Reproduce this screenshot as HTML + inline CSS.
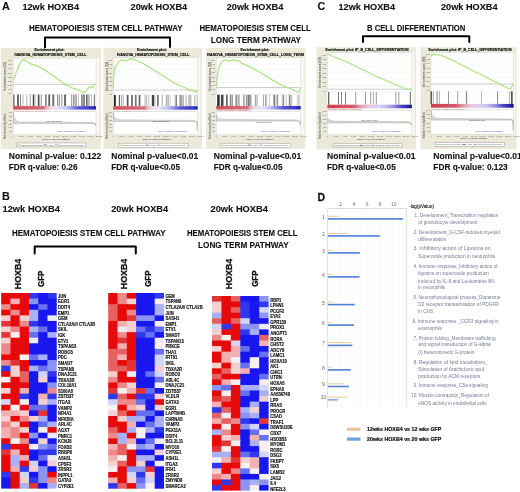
<!DOCTYPE html>
<html><head><meta charset="utf-8"><style>
html,body{margin:0;padding:0;background:#fff;}
body{width:520px;height:492px;overflow:hidden;}
svg{display:block;font-family:"Liberation Sans", sans-serif;filter:blur(0.3px);}
</style></head><body>
<svg width="520" height="492" viewBox="0 0 520 492">
<rect width="520" height="492" fill="#fff"/>
<text x="2.00" y="9.60" font-size="10.8" stroke="#111" stroke-width="0.12" font-weight="bold" fill="#111" >A</text>
<text x="22.40" y="9.60" font-size="9.3" stroke="#111" stroke-width="0.12" font-weight="bold" textLength="56.60" lengthAdjust="spacingAndGlyphs" fill="#111" >12wk HOXB4</text>
<text x="130.60" y="9.60" font-size="9.3" stroke="#111" stroke-width="0.12" font-weight="bold" textLength="56.60" lengthAdjust="spacingAndGlyphs" fill="#111" >20wk HOXB4</text>
<text x="226.70" y="9.60" font-size="9.3" stroke="#111" stroke-width="0.12" font-weight="bold" textLength="56.60" lengthAdjust="spacingAndGlyphs" fill="#111" >20wk HOXB4</text>
<text x="317.60" y="9.60" font-size="10.8" stroke="#111" stroke-width="0.12" font-weight="bold" fill="#111" >C</text>
<text x="338.50" y="9.60" font-size="9.3" stroke="#111" stroke-width="0.12" font-weight="bold" textLength="56.60" lengthAdjust="spacingAndGlyphs" fill="#111" >12wk HOXB4</text>
<text x="441.00" y="9.60" font-size="9.3" stroke="#111" stroke-width="0.12" font-weight="bold" textLength="56.60" lengthAdjust="spacingAndGlyphs" fill="#111" >20wk HOXB4</text>
<text x="29.00" y="30.60" font-size="9.0" stroke="#111" stroke-width="0.12" font-weight="bold" textLength="153.50" lengthAdjust="spacingAndGlyphs" fill="#111" >HEMATOPOIESIS STEM CELL PATHWAY</text>
<text x="199.40" y="30.60" font-size="9.0" stroke="#111" stroke-width="0.12" font-weight="bold" textLength="111.50" lengthAdjust="spacingAndGlyphs" fill="#111" >HEMATOPOIESIS STEM CELL</text>
<text x="210.80" y="42.60" font-size="9.0" stroke="#111" stroke-width="0.12" font-weight="bold" textLength="90.20" lengthAdjust="spacingAndGlyphs" fill="#111" >LONG TERM PATHWAY</text>
<text x="367.00" y="30.50" font-size="9.0" stroke="#111" stroke-width="0.12" font-weight="bold" textLength="98.40" lengthAdjust="spacingAndGlyphs" fill="#111" >B CELL DIFFERENTIATION</text>
<path d="M45,47.3 V37.5 H170 V47.3" fill="none" stroke="#000" stroke-width="2" stroke-linejoin="round" stroke-linecap="round"/>
<path d="M363,42 V36.2 H469.3 V42" fill="none" stroke="#000" stroke-width="2" stroke-linejoin="round" stroke-linecap="round"/>
<text x="8.75" y="158.80" font-size="8.2" stroke="#111" stroke-width="0.1" font-weight="bold" textLength="92.50" lengthAdjust="spacingAndGlyphs" fill="#111" >Nominal p-value: 0.122</text>
<text x="8.75" y="169.50" font-size="8.2" stroke="#111" stroke-width="0.1" font-weight="bold" textLength="68.70" lengthAdjust="spacingAndGlyphs" fill="#111" >FDR q-value: 0.26</text>
<text x="111.25" y="158.80" font-size="8.2" stroke="#111" stroke-width="0.1" font-weight="bold" textLength="87.00" lengthAdjust="spacingAndGlyphs" fill="#111" >Nominal p-value&lt;0.01</text>
<text x="111.25" y="169.50" font-size="8.2" stroke="#111" stroke-width="0.1" font-weight="bold" textLength="68.70" lengthAdjust="spacingAndGlyphs" fill="#111" >FDR q-value&lt;0.05</text>
<text x="213.75" y="158.80" font-size="8.2" stroke="#111" stroke-width="0.1" font-weight="bold" textLength="87.50" lengthAdjust="spacingAndGlyphs" fill="#111" >Nominal p-value&lt;0.01</text>
<text x="213.75" y="169.50" font-size="8.2" stroke="#111" stroke-width="0.1" font-weight="bold" textLength="68.70" lengthAdjust="spacingAndGlyphs" fill="#111" >FDR q-value&lt;0.05</text>
<text x="327.00" y="158.80" font-size="8.2" stroke="#111" stroke-width="0.1" font-weight="bold" textLength="88.50" lengthAdjust="spacingAndGlyphs" fill="#111" >Nominal p-value&lt;0.01</text>
<text x="327.00" y="169.50" font-size="8.2" stroke="#111" stroke-width="0.1" font-weight="bold" textLength="68.70" lengthAdjust="spacingAndGlyphs" fill="#111" >FDR q-value&lt;0.05</text>
<text x="433.30" y="158.80" font-size="8.2" stroke="#111" stroke-width="0.1" font-weight="bold" textLength="88.50" lengthAdjust="spacingAndGlyphs" fill="#111" >Nominal p-value&lt;0.01</text>
<text x="433.30" y="169.50" font-size="8.2" stroke="#111" stroke-width="0.1" font-weight="bold" textLength="74.40" lengthAdjust="spacingAndGlyphs" fill="#111" >FDR q-value: 0.123</text>
<rect x="1" y="48" width="100" height="101" fill="#eae9da"/>
<rect x="13.2" y="58.2" width="86.3" height="76.60000000000001" fill="#f8f8f2"/>
<text x="34.60" y="51.00" font-size="3.3" stroke="#111" stroke-width="0.15" font-weight="bold" textLength="29.80" lengthAdjust="spacingAndGlyphs" fill="#111" >Enrichment plot:</text>
<text x="14.40" y="55.60" font-size="3.3" stroke="#111" stroke-width="0.15" font-weight="bold" textLength="72.10" lengthAdjust="spacingAndGlyphs" fill="#111" >IVANOVA_HEMATOPOIESIS_STEM_CELL</text>
<rect x="13.2" y="58.2" width="82.8" height="36.3" fill="#fff" stroke="#c8c8c8" stroke-width="0.4"/>
<line x1="13.2" x2="96.0" y1="64.2" y2="64.2" stroke="#eee" stroke-width="0.4"/>
<line x1="13.2" x2="96.0" y1="70.3" y2="70.3" stroke="#eee" stroke-width="0.4"/>
<line x1="13.2" x2="96.0" y1="76.3" y2="76.3" stroke="#eee" stroke-width="0.4"/>
<line x1="13.2" x2="96.0" y1="82.4" y2="82.4" stroke="#eee" stroke-width="0.4"/>
<line x1="13.2" x2="96.0" y1="88.5" y2="88.5" stroke="#eee" stroke-width="0.4"/>
<line x1="13.2" x2="96.0" y1="84.3" y2="84.3" stroke="#9a9a9a" stroke-width="0.5"/>
<text x="12.00" y="61.10" font-size="2.4" textLength="4.00" lengthAdjust="spacingAndGlyphs" text-anchor="end" fill="#5a5a5a" >0.60</text>
<text x="12.00" y="65.26" font-size="2.4" textLength="4.00" lengthAdjust="spacingAndGlyphs" text-anchor="end" fill="#5a5a5a" >0.53</text>
<text x="12.00" y="69.43" font-size="2.4" textLength="4.00" lengthAdjust="spacingAndGlyphs" text-anchor="end" fill="#5a5a5a" >0.45</text>
<text x="12.00" y="73.59" font-size="2.4" textLength="4.00" lengthAdjust="spacingAndGlyphs" text-anchor="end" fill="#5a5a5a" >0.38</text>
<text x="12.00" y="77.75" font-size="2.4" textLength="4.00" lengthAdjust="spacingAndGlyphs" text-anchor="end" fill="#5a5a5a" >0.30</text>
<text x="12.00" y="81.91" font-size="2.4" textLength="4.00" lengthAdjust="spacingAndGlyphs" text-anchor="end" fill="#5a5a5a" >0.22</text>
<text x="12.00" y="86.08" font-size="2.4" textLength="4.00" lengthAdjust="spacingAndGlyphs" text-anchor="end" fill="#5a5a5a" >0.15</text>
<text x="12.00" y="90.24" font-size="2.4" textLength="4.00" lengthAdjust="spacingAndGlyphs" text-anchor="end" fill="#5a5a5a" >0.07</text>
<text x="12.00" y="94.40" font-size="2.4" textLength="4.00" lengthAdjust="spacingAndGlyphs" text-anchor="end" fill="#5a5a5a" >-0.05</text>
<text transform="translate(6.0,90.5) rotate(-90)" font-size="2.6" font-weight="bold" fill="#666" textLength="28.3" lengthAdjust="spacingAndGlyphs">Enrichment score (ES)</text>
<text transform="translate(6.0,138.8) rotate(-90)" font-size="2.6" font-weight="bold" fill="#666" textLength="25.0" lengthAdjust="spacingAndGlyphs">Ranked list metric (Signal2Noise)</text>
<polyline points="13.4,80.0 15.8,73.8 19.2,65.6 21.6,60.3 24.0,59.8 27.4,61.8 31.2,64.2 35.0,65.1 38.9,66.6 43.7,69.5 48.5,72.6 54.8,76.7 59.6,80.5 64.4,83.9 69.2,86.3 74.0,88.7 78.8,90.1 82.7,92.5 85.6,91.6 88.5,87.7 90.4,86.8 92.3,87.7 94.2,84.8 95.2,84.4" fill="none" stroke="#a6e47e" stroke-width="1.2" stroke-linejoin="round"/>
<rect x="13.2" y="94.5" width="82.8" height="11.599999999999994" fill="#fff"/>
<rect x="13.30" y="94.5" width="1.2" height="11.599999999999994" fill="#555"/>
<rect x="17.10" y="94.5" width="1.7" height="11.599999999999994" fill="#555"/>
<rect x="20.00" y="94.5" width="0.9" height="11.599999999999994" fill="#777"/>
<rect x="22.60" y="94.5" width="0.8" height="11.599999999999994" fill="#aaa"/>
<rect x="26.40" y="94.5" width="0.9" height="11.599999999999994" fill="#aaa"/>
<rect x="29.80" y="94.5" width="0.8" height="11.599999999999994" fill="#888"/>
<rect x="32.80" y="94.5" width="1.2" height="11.599999999999994" fill="#444"/>
<rect x="34.50" y="94.5" width="0.8" height="11.599999999999994" fill="#888"/>
<rect x="37.80" y="94.5" width="1.7" height="11.599999999999994" fill="#555"/>
<rect x="40.80" y="94.5" width="0.9" height="11.599999999999994" fill="#888"/>
<rect x="45.00" y="94.5" width="1.7" height="11.599999999999994" fill="#888"/>
<rect x="48.40" y="94.5" width="1.7" height="11.599999999999994" fill="#555"/>
<rect x="52.20" y="94.5" width="1.8" height="11.599999999999994" fill="#777"/>
<rect x="54.30" y="94.5" width="0.6" height="11.599999999999994" fill="#bbb"/>
<rect x="57.00" y="94.5" width="1.2" height="11.599999999999994" fill="#999"/>
<rect x="58.80" y="94.5" width="1.1" height="11.599999999999994" fill="#999"/>
<rect x="61.20" y="94.5" width="1.3" height="11.599999999999994" fill="#aaa"/>
<rect x="64.20" y="94.5" width="1.7" height="11.599999999999994" fill="#555"/>
<rect x="71.00" y="94.5" width="1.2" height="11.599999999999994" fill="#aaa"/>
<rect x="73.00" y="94.5" width="1.6" height="11.599999999999994" fill="#999"/>
<rect x="75.40" y="94.5" width="1.5" height="11.599999999999994" fill="#999"/>
<rect x="78.20" y="94.5" width="0.8" height="11.599999999999994" fill="#bbb"/>
<rect x="81.10" y="94.5" width="1.7" height="11.599999999999994" fill="#888"/>
<rect x="83.20" y="94.5" width="1.7" height="11.599999999999994" fill="#777"/>
<rect x="86.20" y="94.5" width="1.3" height="11.599999999999994" fill="#444"/>
<rect x="88.30" y="94.5" width="1.3" height="11.599999999999994" fill="#999"/>
<rect x="90.90" y="94.5" width="0.8" height="11.599999999999994" fill="#aaa"/>
<rect x="93.80" y="94.5" width="1.3" height="11.599999999999994" fill="#888"/>
<defs><linearGradient id="g1" x1="0" x2="1" y1="0" y2="0"><stop offset="0" stop-color="#cf4c5c"/><stop offset="0.37" stop-color="#d66c7c"/><stop offset="0.4" stop-color="#e6aabc"/><stop offset="0.46" stop-color="#f0dcea"/><stop offset="0.55" stop-color="#e4e2f8"/><stop offset="0.64" stop-color="#c4c0f2"/><stop offset="0.72" stop-color="#8e88e4"/><stop offset="0.8" stop-color="#5c56d6"/><stop offset="0.94" stop-color="#3c3ac4"/><stop offset="1" stop-color="#2222a8"/></linearGradient></defs>
<rect x="13.2" y="106.1" width="82.8" height="3.5" fill="url(#g1)"/>
<text x="13.70" y="111.50" font-size="2.2" textLength="33.12" lengthAdjust="spacingAndGlyphs" fill="#c04050" >'HSC' (positively correlated)</text>
<rect x="13.2" y="111.8" width="82.8" height="23.000000000000014" fill="#fff" stroke="#c8c8c8" stroke-width="0.4"/>
<path d="M13.5,123.6 L13.5,112.5 C14.0,119.8 15.7,121.5 21.2,122.0 L93.0,122.5 C94.5,122.8 95.2,124.3 95.6,126.0 L95.6,123.6 Z" fill="#dadada" stroke="#999" stroke-width="0.4"/>
<text x="12.00" y="113.20" font-size="2.4" textLength="3.60" lengthAdjust="spacingAndGlyphs" text-anchor="end" fill="#5a5a5a" >1.00</text>
<text x="12.00" y="117.00" font-size="2.4" textLength="3.60" lengthAdjust="spacingAndGlyphs" text-anchor="end" fill="#5a5a5a" >0.75</text>
<text x="12.00" y="120.80" font-size="2.4" textLength="3.60" lengthAdjust="spacingAndGlyphs" text-anchor="end" fill="#5a5a5a" >0.50</text>
<text x="12.00" y="124.60" font-size="2.4" textLength="3.60" lengthAdjust="spacingAndGlyphs" text-anchor="end" fill="#5a5a5a" >0.25</text>
<text x="12.00" y="128.40" font-size="2.4" textLength="3.60" lengthAdjust="spacingAndGlyphs" text-anchor="end" fill="#5a5a5a" >0.00</text>
<text x="12.00" y="132.20" font-size="2.4" textLength="3.60" lengthAdjust="spacingAndGlyphs" text-anchor="end" fill="#5a5a5a" >-0.25</text>
<text x="46.32" y="121.70" font-size="2.4" textLength="15.73" lengthAdjust="spacingAndGlyphs" fill="#444" >Zero cross at 3793</text>
<text x="57.08" y="132.40" font-size="2.3" textLength="28.15" lengthAdjust="spacingAndGlyphs" fill="#4a40c8" >'GFP' (negatively correlated)</text>
<text x="13.20" y="137.20" font-size="2.1" text-anchor="middle" fill="#666" >0</text>
<text x="21.78" y="137.20" font-size="2.1" text-anchor="middle" fill="#666" >2,000</text>
<text x="30.36" y="137.20" font-size="2.1" text-anchor="middle" fill="#666" >4,000</text>
<text x="38.94" y="137.20" font-size="2.1" text-anchor="middle" fill="#666" >6,000</text>
<text x="47.52" y="137.20" font-size="2.1" text-anchor="middle" fill="#666" >8,000</text>
<text x="56.10" y="137.20" font-size="2.1" text-anchor="middle" fill="#666" >10,000</text>
<text x="64.68" y="137.20" font-size="2.1" text-anchor="middle" fill="#666" >12,000</text>
<text x="73.26" y="137.20" font-size="2.1" text-anchor="middle" fill="#666" >14,000</text>
<text x="81.84" y="137.20" font-size="2.1" text-anchor="middle" fill="#666" >16,000</text>
<text x="90.42" y="137.20" font-size="2.1" text-anchor="middle" fill="#666" >18,000</text>
<text x="99.00" y="137.20" font-size="2.1" text-anchor="middle" fill="#666" >20,000</text>
<text x="42.18" y="140.00" font-size="2.2" font-weight="bold" textLength="27.32" lengthAdjust="spacingAndGlyphs" fill="#666" >Rank in Ordered Dataset</text>
<rect x="16.2" y="143.0" width="69.6" height="3.8000000000000114" fill="#fff" stroke="#999" stroke-width="0.5"/>
<line x1="17.2" x2="21.1" y1="144.9" y2="144.9" stroke="#8ad060" stroke-width="0.8"/>
<line x1="43.3" x2="46.8" y1="144.9" y2="144.9" stroke="#333" stroke-width="0.6"/>
<line x1="54.5" x2="58.7" y1="144.9" y2="144.9" stroke="#999" stroke-width="0.8"/>
<text x="21.77" y="145.60" font-size="2.0" textLength="20.88" lengthAdjust="spacingAndGlyphs" fill="#666" >Enrichment profile</text>
<text x="47.52" y="145.60" font-size="2.0" textLength="5.57" lengthAdjust="spacingAndGlyphs" fill="#666" >Hits</text>
<text x="59.35" y="145.60" font-size="2.0" textLength="23.66" lengthAdjust="spacingAndGlyphs" fill="#666" >Ranking metric scores</text>
<rect x="103.4" y="47.8" width="98.6" height="101.00000000000001" fill="#eae9da"/>
<rect x="113.2" y="57.8" width="87.3" height="77.00000000000001" fill="#f8f8f2"/>
<text x="137.00" y="51.00" font-size="3.3" stroke="#111" stroke-width="0.15" font-weight="bold" textLength="30.00" lengthAdjust="spacingAndGlyphs" fill="#111" >Enrichment plot:</text>
<text x="117.00" y="55.60" font-size="3.3" stroke="#111" stroke-width="0.15" font-weight="bold" textLength="72.50" lengthAdjust="spacingAndGlyphs" fill="#111" >IVANOVA_HEMATOPOIESIS_STEM_CELL</text>
<rect x="113.2" y="57.8" width="84.49999999999999" height="37.2" fill="#fff" stroke="#c8c8c8" stroke-width="0.4"/>
<line x1="113.2" x2="197.7" y1="64.0" y2="64.0" stroke="#eee" stroke-width="0.4"/>
<line x1="113.2" x2="197.7" y1="70.2" y2="70.2" stroke="#eee" stroke-width="0.4"/>
<line x1="113.2" x2="197.7" y1="76.4" y2="76.4" stroke="#eee" stroke-width="0.4"/>
<line x1="113.2" x2="197.7" y1="82.6" y2="82.6" stroke="#eee" stroke-width="0.4"/>
<line x1="113.2" x2="197.7" y1="88.8" y2="88.8" stroke="#eee" stroke-width="0.4"/>
<line x1="113.2" x2="197.7" y1="90.1" y2="90.1" stroke="#9a9a9a" stroke-width="0.5"/>
<text x="112.00" y="60.70" font-size="2.4" textLength="4.00" lengthAdjust="spacingAndGlyphs" text-anchor="end" fill="#5a5a5a" >0.60</text>
<text x="112.00" y="64.98" font-size="2.4" textLength="4.00" lengthAdjust="spacingAndGlyphs" text-anchor="end" fill="#5a5a5a" >0.53</text>
<text x="112.00" y="69.25" font-size="2.4" textLength="4.00" lengthAdjust="spacingAndGlyphs" text-anchor="end" fill="#5a5a5a" >0.45</text>
<text x="112.00" y="73.53" font-size="2.4" textLength="4.00" lengthAdjust="spacingAndGlyphs" text-anchor="end" fill="#5a5a5a" >0.38</text>
<text x="112.00" y="77.80" font-size="2.4" textLength="4.00" lengthAdjust="spacingAndGlyphs" text-anchor="end" fill="#5a5a5a" >0.30</text>
<text x="112.00" y="82.08" font-size="2.4" textLength="4.00" lengthAdjust="spacingAndGlyphs" text-anchor="end" fill="#5a5a5a" >0.22</text>
<text x="112.00" y="86.35" font-size="2.4" textLength="4.00" lengthAdjust="spacingAndGlyphs" text-anchor="end" fill="#5a5a5a" >0.15</text>
<text x="112.00" y="90.62" font-size="2.4" textLength="4.00" lengthAdjust="spacingAndGlyphs" text-anchor="end" fill="#5a5a5a" >0.07</text>
<text x="112.00" y="94.90" font-size="2.4" textLength="4.00" lengthAdjust="spacingAndGlyphs" text-anchor="end" fill="#5a5a5a" >-0.05</text>
<text transform="translate(108.4,91.0) rotate(-90)" font-size="2.6" font-weight="bold" fill="#666" textLength="29.2" lengthAdjust="spacingAndGlyphs">Enrichment score (ES)</text>
<text transform="translate(108.4,138.8) rotate(-90)" font-size="2.6" font-weight="bold" fill="#666" textLength="25.1" lengthAdjust="spacingAndGlyphs">Ranked list metric (Signal2Noise)</text>
<polyline points="113.1,87.7 113.9,75.2 114.9,68.5 116.8,64.7 118.7,61.8 120.7,59.8 123.5,60.3 126.4,61.3 128.3,59.4 131.2,58.9 135.1,59.8 138.9,61.8 142.8,63.2 146.6,65.6 150.5,68.0 155.0,70.8 159.8,73.8 164.6,76.7 169.4,80.0 174.2,82.9 179.0,85.3 183.8,87.3 188.7,89.2 193.5,91.1 195.9,92.1 196.8,90.6" fill="none" stroke="#a6e47e" stroke-width="1.2" stroke-linejoin="round"/>
<rect x="113.2" y="95.0" width="84.49999999999999" height="11.200000000000003" fill="#fff"/>
<rect x="113.90" y="95.0" width="1.9" height="11.200000000000003" fill="#222"/>
<rect x="118.80" y="95.0" width="1.2" height="11.200000000000003" fill="#666"/>
<rect x="120.90" y="95.0" width="1.3" height="11.200000000000003" fill="#aaa"/>
<rect x="123.00" y="95.0" width="0.9" height="11.200000000000003" fill="#bbb"/>
<rect x="126.80" y="95.0" width="1.7" height="11.200000000000003" fill="#555"/>
<rect x="131.10" y="95.0" width="1.7" height="11.200000000000003" fill="#666"/>
<rect x="134.90" y="95.0" width="1.7" height="11.200000000000003" fill="#777"/>
<rect x="138.70" y="95.0" width="1.7" height="11.200000000000003" fill="#666"/>
<rect x="144.60" y="95.0" width="0.9" height="11.200000000000003" fill="#aaa"/>
<rect x="146.30" y="95.0" width="0.9" height="11.200000000000003" fill="#aaa"/>
<rect x="148.40" y="95.0" width="0.9" height="11.200000000000003" fill="#bbb"/>
<rect x="151.80" y="95.0" width="2.2" height="11.200000000000003" fill="#444"/>
<rect x="154.40" y="95.0" width="0.9" height="11.200000000000003" fill="#aaa"/>
<rect x="157.00" y="95.0" width="1.7" height="11.200000000000003" fill="#777"/>
<rect x="161.60" y="95.0" width="1.3" height="11.200000000000003" fill="#bbb"/>
<rect x="165.90" y="95.0" width="1.3" height="11.200000000000003" fill="#aaa"/>
<rect x="167.60" y="95.0" width="1.2" height="11.200000000000003" fill="#aaa"/>
<rect x="169.70" y="95.0" width="0.8" height="11.200000000000003" fill="#bbb"/>
<rect x="174.80" y="95.0" width="0.8" height="11.200000000000003" fill="#888"/>
<rect x="176.00" y="95.0" width="0.9" height="11.200000000000003" fill="#777"/>
<rect x="179.40" y="95.0" width="1.3" height="11.200000000000003" fill="#888"/>
<rect x="181.10" y="95.0" width="1.2" height="11.200000000000003" fill="#999"/>
<rect x="182.70" y="95.0" width="1.0" height="11.200000000000003" fill="#999"/>
<rect x="185.40" y="95.0" width="1.2" height="11.200000000000003" fill="#bbb"/>
<rect x="188.30" y="95.0" width="1.3" height="11.200000000000003" fill="#aaa"/>
<rect x="190.40" y="95.0" width="0.9" height="11.200000000000003" fill="#999"/>
<rect x="194.30" y="95.0" width="1.2" height="11.200000000000003" fill="#bbb"/>
<rect x="196.80" y="95.0" width="0.8" height="11.200000000000003" fill="#aaa"/>
<defs><linearGradient id="g2" x1="0" x2="1" y1="0" y2="0"><stop offset="0" stop-color="#cf4c5c"/><stop offset="0.37" stop-color="#d66c7c"/><stop offset="0.4" stop-color="#e6aabc"/><stop offset="0.46" stop-color="#f0dcea"/><stop offset="0.55" stop-color="#e4e2f8"/><stop offset="0.64" stop-color="#c4c0f2"/><stop offset="0.72" stop-color="#8e88e4"/><stop offset="0.8" stop-color="#5c56d6"/><stop offset="0.94" stop-color="#3c3ac4"/><stop offset="1" stop-color="#2222a8"/></linearGradient></defs>
<rect x="113.2" y="106.2" width="84.49999999999999" height="3.5" fill="url(#g2)"/>
<text x="113.70" y="111.60" font-size="2.2" textLength="33.80" lengthAdjust="spacingAndGlyphs" fill="#c04050" >'HSC' (positively correlated)</text>
<rect x="113.2" y="111.7" width="84.49999999999999" height="23.10000000000001" fill="#fff" stroke="#c8c8c8" stroke-width="0.4"/>
<path d="M113.5,121.5 L113.5,112.7 C114.0,117.7 115.7,119.4 121.2,119.9 L194.7,120.4 C196.2,120.7 196.89999999999998,122.2 197.29999999999998,130.0 L197.29999999999998,121.5 Z" fill="#dadada" stroke="#999" stroke-width="0.4"/>
<text x="112.00" y="113.10" font-size="2.4" textLength="3.60" lengthAdjust="spacingAndGlyphs" text-anchor="end" fill="#5a5a5a" >1.00</text>
<text x="112.00" y="116.92" font-size="2.4" textLength="3.60" lengthAdjust="spacingAndGlyphs" text-anchor="end" fill="#5a5a5a" >0.75</text>
<text x="112.00" y="120.74" font-size="2.4" textLength="3.60" lengthAdjust="spacingAndGlyphs" text-anchor="end" fill="#5a5a5a" >0.50</text>
<text x="112.00" y="124.56" font-size="2.4" textLength="3.60" lengthAdjust="spacingAndGlyphs" text-anchor="end" fill="#5a5a5a" >0.25</text>
<text x="112.00" y="128.38" font-size="2.4" textLength="3.60" lengthAdjust="spacingAndGlyphs" text-anchor="end" fill="#5a5a5a" >0.00</text>
<text x="112.00" y="132.20" font-size="2.4" textLength="3.60" lengthAdjust="spacingAndGlyphs" text-anchor="end" fill="#5a5a5a" >-0.25</text>
<text x="152.91" y="121.90" font-size="2.4" textLength="16.05" lengthAdjust="spacingAndGlyphs" fill="#444" >Zero cross at 10796</text>
<text x="157.99" y="132.40" font-size="2.3" textLength="28.73" lengthAdjust="spacingAndGlyphs" fill="#4a40c8" >'GFP' (negatively correlated)</text>
<text x="113.20" y="137.20" font-size="2.1" text-anchor="middle" fill="#666" >0</text>
<text x="121.95" y="137.20" font-size="2.1" text-anchor="middle" fill="#666" >2,000</text>
<text x="130.70" y="137.20" font-size="2.1" text-anchor="middle" fill="#666" >4,000</text>
<text x="139.45" y="137.20" font-size="2.1" text-anchor="middle" fill="#666" >6,000</text>
<text x="148.20" y="137.20" font-size="2.1" text-anchor="middle" fill="#666" >8,000</text>
<text x="156.95" y="137.20" font-size="2.1" text-anchor="middle" fill="#666" >10,000</text>
<text x="165.70" y="137.20" font-size="2.1" text-anchor="middle" fill="#666" >12,000</text>
<text x="174.45" y="137.20" font-size="2.1" text-anchor="middle" fill="#666" >14,000</text>
<text x="183.20" y="137.20" font-size="2.1" text-anchor="middle" fill="#666" >16,000</text>
<text x="191.95" y="137.20" font-size="2.1" text-anchor="middle" fill="#666" >18,000</text>
<text x="200.70" y="137.20" font-size="2.1" text-anchor="middle" fill="#666" >20,000</text>
<text x="142.78" y="140.00" font-size="2.2" font-weight="bold" textLength="27.88" lengthAdjust="spacingAndGlyphs" fill="#666" >Rank in Ordered Dataset</text>
<rect x="118.5" y="143.2" width="69.5" height="4.0" fill="#fff" stroke="#999" stroke-width="0.5"/>
<line x1="119.5" x2="123.4" y1="145.2" y2="145.2" stroke="#8ad060" stroke-width="0.8"/>
<line x1="145.6" x2="149.1" y1="145.2" y2="145.2" stroke="#333" stroke-width="0.6"/>
<line x1="156.7" x2="160.9" y1="145.2" y2="145.2" stroke="#999" stroke-width="0.8"/>
<text x="124.06" y="146.00" font-size="2.0" textLength="20.85" lengthAdjust="spacingAndGlyphs" fill="#666" >Enrichment profile</text>
<text x="149.78" y="146.00" font-size="2.0" textLength="5.56" lengthAdjust="spacingAndGlyphs" fill="#666" >Hits</text>
<text x="161.59" y="146.00" font-size="2.0" textLength="23.63" lengthAdjust="spacingAndGlyphs" fill="#666" >Ranking metric scores</text>
<rect x="206.2" y="47.8" width="99.10000000000002" height="101.00000000000001" fill="#eae9da"/>
<rect x="216.2" y="57.8" width="87.60000000000002" height="77.00000000000001" fill="#f8f8f2"/>
<text x="240.60" y="51.00" font-size="3.3" stroke="#111" stroke-width="0.15" font-weight="bold" textLength="28.80" lengthAdjust="spacingAndGlyphs" fill="#111" >Enrichment plot:</text>
<text x="206.90" y="55.60" font-size="3.3" stroke="#111" stroke-width="0.15" font-weight="bold" textLength="97.10" lengthAdjust="spacingAndGlyphs" fill="#111" >IVANOVA_HEMATOPOIESIS_STEM_CELL_LONG_TERM</text>
<rect x="216.2" y="57.8" width="84.5" height="37.0" fill="#fff" stroke="#c8c8c8" stroke-width="0.4"/>
<line x1="216.2" x2="300.7" y1="64.0" y2="64.0" stroke="#eee" stroke-width="0.4"/>
<line x1="216.2" x2="300.7" y1="70.1" y2="70.1" stroke="#eee" stroke-width="0.4"/>
<line x1="216.2" x2="300.7" y1="76.3" y2="76.3" stroke="#eee" stroke-width="0.4"/>
<line x1="216.2" x2="300.7" y1="82.5" y2="82.5" stroke="#eee" stroke-width="0.4"/>
<line x1="216.2" x2="300.7" y1="88.6" y2="88.6" stroke="#eee" stroke-width="0.4"/>
<line x1="216.2" x2="300.7" y1="87.5" y2="87.5" stroke="#9a9a9a" stroke-width="0.5"/>
<text x="215.00" y="60.70" font-size="2.4" textLength="4.00" lengthAdjust="spacingAndGlyphs" text-anchor="end" fill="#5a5a5a" >0.60</text>
<text x="215.00" y="64.95" font-size="2.4" textLength="4.00" lengthAdjust="spacingAndGlyphs" text-anchor="end" fill="#5a5a5a" >0.53</text>
<text x="215.00" y="69.20" font-size="2.4" textLength="4.00" lengthAdjust="spacingAndGlyphs" text-anchor="end" fill="#5a5a5a" >0.45</text>
<text x="215.00" y="73.45" font-size="2.4" textLength="4.00" lengthAdjust="spacingAndGlyphs" text-anchor="end" fill="#5a5a5a" >0.38</text>
<text x="215.00" y="77.70" font-size="2.4" textLength="4.00" lengthAdjust="spacingAndGlyphs" text-anchor="end" fill="#5a5a5a" >0.30</text>
<text x="215.00" y="81.95" font-size="2.4" textLength="4.00" lengthAdjust="spacingAndGlyphs" text-anchor="end" fill="#5a5a5a" >0.22</text>
<text x="215.00" y="86.20" font-size="2.4" textLength="4.00" lengthAdjust="spacingAndGlyphs" text-anchor="end" fill="#5a5a5a" >0.15</text>
<text x="215.00" y="90.45" font-size="2.4" textLength="4.00" lengthAdjust="spacingAndGlyphs" text-anchor="end" fill="#5a5a5a" >0.07</text>
<text x="215.00" y="94.70" font-size="2.4" textLength="4.00" lengthAdjust="spacingAndGlyphs" text-anchor="end" fill="#5a5a5a" >-0.05</text>
<text transform="translate(211.2,90.8) rotate(-90)" font-size="2.6" font-weight="bold" fill="#666" textLength="29.0" lengthAdjust="spacingAndGlyphs">Enrichment score (ES)</text>
<text transform="translate(211.2,138.8) rotate(-90)" font-size="2.6" font-weight="bold" fill="#666" textLength="25.1" lengthAdjust="spacingAndGlyphs">Ranked list metric (Signal2Noise)</text>
<polyline points="216.5,86.0 216.9,79.1 217.9,72.3 219.3,66.6 221.7,61.8 224.6,59.8 227.5,60.8 230.4,60.8 232.8,59.8 236.2,60.3 239.0,60.8 241.9,63.2 245.8,65.1 250.6,67.1 255.4,70.0 259.0,71.8 262.8,74.0 267.6,76.9 272.4,80.0 277.2,82.9 282.0,85.3 286.8,87.3 291.7,89.2 294.5,90.6 297.4,92.3 298.9,92.1 299.8,88.7" fill="none" stroke="#a6e47e" stroke-width="1.2" stroke-linejoin="round"/>
<rect x="216.2" y="94.8" width="84.5" height="11.200000000000003" fill="#fff"/>
<rect x="217.10" y="94.8" width="2.6" height="11.200000000000003" fill="#333"/>
<rect x="220.90" y="94.8" width="2.6" height="11.200000000000003" fill="#444"/>
<rect x="226.00" y="94.8" width="1.7" height="11.200000000000003" fill="#666"/>
<rect x="229.80" y="94.8" width="1.4" height="11.200000000000003" fill="#888"/>
<rect x="231.60" y="94.8" width="1.2" height="11.200000000000003" fill="#888"/>
<rect x="235.30" y="94.8" width="2.2" height="11.200000000000003" fill="#999"/>
<rect x="238.30" y="94.8" width="1.3" height="11.200000000000003" fill="#999"/>
<rect x="243.00" y="94.8" width="1.7" height="11.200000000000003" fill="#aaa"/>
<rect x="245.90" y="94.8" width="1.3" height="11.200000000000003" fill="#999"/>
<rect x="247.60" y="94.8" width="2.1" height="11.200000000000003" fill="#777"/>
<rect x="250.20" y="94.8" width="1.2" height="11.200000000000003" fill="#888"/>
<rect x="254.80" y="94.8" width="1.7" height="11.200000000000003" fill="#aaa"/>
<rect x="257.00" y="94.8" width="0.8" height="11.200000000000003" fill="#bbb"/>
<rect x="262.90" y="94.8" width="0.9" height="11.200000000000003" fill="#999"/>
<rect x="265.00" y="94.8" width="1.7" height="11.200000000000003" fill="#aaa"/>
<rect x="268.90" y="94.8" width="0.8" height="11.200000000000003" fill="#bbb"/>
<rect x="273.50" y="94.8" width="1.7" height="11.200000000000003" fill="#777"/>
<rect x="276.50" y="94.8" width="1.7" height="11.200000000000003" fill="#999"/>
<rect x="281.60" y="94.8" width="0.8" height="11.200000000000003" fill="#bbb"/>
<rect x="282.80" y="94.8" width="1.3" height="11.200000000000003" fill="#888"/>
<rect x="285.80" y="94.8" width="0.9" height="11.200000000000003" fill="#bbb"/>
<rect x="288.80" y="94.8" width="1.7" height="11.200000000000003" fill="#888"/>
<rect x="291.30" y="94.8" width="0.9" height="11.200000000000003" fill="#aaa"/>
<rect x="296.80" y="94.8" width="0.9" height="11.200000000000003" fill="#ccc"/>
<rect x="298.50" y="94.8" width="0.9" height="11.200000000000003" fill="#999"/>
<defs><linearGradient id="g3" x1="0" x2="1" y1="0" y2="0"><stop offset="0" stop-color="#cf4c5c"/><stop offset="0.37" stop-color="#d66c7c"/><stop offset="0.4" stop-color="#e6aabc"/><stop offset="0.46" stop-color="#f0dcea"/><stop offset="0.55" stop-color="#e4e2f8"/><stop offset="0.64" stop-color="#c4c0f2"/><stop offset="0.72" stop-color="#8e88e4"/><stop offset="0.8" stop-color="#5c56d6"/><stop offset="0.94" stop-color="#3c3ac4"/><stop offset="1" stop-color="#2222a8"/></linearGradient></defs>
<rect x="216.2" y="106.0" width="84.5" height="3.5" fill="url(#g3)"/>
<text x="216.70" y="111.40" font-size="2.2" textLength="33.80" lengthAdjust="spacingAndGlyphs" fill="#c04050" >'HSC' (positively correlated)</text>
<rect x="216.2" y="111.7" width="84.5" height="23.10000000000001" fill="#fff" stroke="#c8c8c8" stroke-width="0.4"/>
<path d="M216.5,121.1 L216.5,114.7 C217.0,117.3 218.7,119.0 224.2,119.5 L297.7,120.0 C299.2,120.3 299.9,121.8 300.3,125.2 L300.3,121.1 Z" fill="#dadada" stroke="#999" stroke-width="0.4"/>
<text x="215.00" y="113.10" font-size="2.4" textLength="3.60" lengthAdjust="spacingAndGlyphs" text-anchor="end" fill="#5a5a5a" >1.00</text>
<text x="215.00" y="116.92" font-size="2.4" textLength="3.60" lengthAdjust="spacingAndGlyphs" text-anchor="end" fill="#5a5a5a" >0.75</text>
<text x="215.00" y="120.74" font-size="2.4" textLength="3.60" lengthAdjust="spacingAndGlyphs" text-anchor="end" fill="#5a5a5a" >0.50</text>
<text x="215.00" y="124.56" font-size="2.4" textLength="3.60" lengthAdjust="spacingAndGlyphs" text-anchor="end" fill="#5a5a5a" >0.25</text>
<text x="215.00" y="128.38" font-size="2.4" textLength="3.60" lengthAdjust="spacingAndGlyphs" text-anchor="end" fill="#5a5a5a" >0.00</text>
<text x="215.00" y="132.20" font-size="2.4" textLength="3.60" lengthAdjust="spacingAndGlyphs" text-anchor="end" fill="#5a5a5a" >-0.25</text>
<text x="255.91" y="122.80" font-size="2.4" textLength="16.05" lengthAdjust="spacingAndGlyphs" fill="#444" >Zero cross at 10796</text>
<text x="260.99" y="132.40" font-size="2.3" textLength="28.73" lengthAdjust="spacingAndGlyphs" fill="#4a40c8" >'GFP' (negatively correlated)</text>
<text x="216.20" y="137.20" font-size="2.1" text-anchor="middle" fill="#666" >0</text>
<text x="224.95" y="137.20" font-size="2.1" text-anchor="middle" fill="#666" >2,000</text>
<text x="233.70" y="137.20" font-size="2.1" text-anchor="middle" fill="#666" >4,000</text>
<text x="242.45" y="137.20" font-size="2.1" text-anchor="middle" fill="#666" >6,000</text>
<text x="251.20" y="137.20" font-size="2.1" text-anchor="middle" fill="#666" >8,000</text>
<text x="259.95" y="137.20" font-size="2.1" text-anchor="middle" fill="#666" >10,000</text>
<text x="268.70" y="137.20" font-size="2.1" text-anchor="middle" fill="#666" >12,000</text>
<text x="277.45" y="137.20" font-size="2.1" text-anchor="middle" fill="#666" >14,000</text>
<text x="286.20" y="137.20" font-size="2.1" text-anchor="middle" fill="#666" >16,000</text>
<text x="294.95" y="137.20" font-size="2.1" text-anchor="middle" fill="#666" >18,000</text>
<text x="303.70" y="137.20" font-size="2.1" text-anchor="middle" fill="#666" >20,000</text>
<text x="245.77" y="140.00" font-size="2.2" font-weight="bold" textLength="27.89" lengthAdjust="spacingAndGlyphs" fill="#666" >Rank in Ordered Dataset</text>
<rect x="220.0" y="143.3" width="70.5" height="3.8999999999999773" fill="#fff" stroke="#999" stroke-width="0.5"/>
<line x1="221.0" x2="224.9" y1="145.2" y2="145.2" stroke="#8ad060" stroke-width="0.8"/>
<line x1="247.5" x2="251.0" y1="145.2" y2="145.2" stroke="#333" stroke-width="0.6"/>
<line x1="258.8" x2="263.0" y1="145.2" y2="145.2" stroke="#999" stroke-width="0.8"/>
<text x="225.64" y="146.00" font-size="2.0" textLength="21.15" lengthAdjust="spacingAndGlyphs" fill="#666" >Enrichment profile</text>
<text x="251.72" y="146.00" font-size="2.0" textLength="5.64" lengthAdjust="spacingAndGlyphs" fill="#666" >Hits</text>
<text x="263.71" y="146.00" font-size="2.0" textLength="23.97" lengthAdjust="spacingAndGlyphs" fill="#666" >Ranking metric scores</text>
<rect x="316.4" y="47.3" width="99.60000000000002" height="102.00000000000001" fill="#eae9da"/>
<rect x="327.4" y="52.8" width="87.10000000000002" height="82.00000000000001" fill="#f8f8f2"/>
<text x="325.50" y="50.90" font-size="3.3" stroke="#111" stroke-width="0.15" font-weight="bold" textLength="83.10" lengthAdjust="spacingAndGlyphs" fill="#111" >Enrichment plot: IP_B_CELL_DIFFERENTIATION</text>
<rect x="327.4" y="52.8" width="84.5" height="39.2" fill="#fff" stroke="#c8c8c8" stroke-width="0.4"/>
<line x1="327.4" x2="411.9" y1="59.3" y2="59.3" stroke="#eee" stroke-width="0.4"/>
<line x1="327.4" x2="411.9" y1="65.9" y2="65.9" stroke="#eee" stroke-width="0.4"/>
<line x1="327.4" x2="411.9" y1="72.4" y2="72.4" stroke="#eee" stroke-width="0.4"/>
<line x1="327.4" x2="411.9" y1="78.9" y2="78.9" stroke="#eee" stroke-width="0.4"/>
<line x1="327.4" x2="411.9" y1="85.5" y2="85.5" stroke="#eee" stroke-width="0.4"/>
<line x1="327.4" x2="411.9" y1="89.2" y2="89.2" stroke="#9a9a9a" stroke-width="0.5"/>
<text x="326.20" y="55.70" font-size="2.4" textLength="4.00" lengthAdjust="spacingAndGlyphs" text-anchor="end" fill="#5a5a5a" >0.60</text>
<text x="326.20" y="60.22" font-size="2.4" textLength="4.00" lengthAdjust="spacingAndGlyphs" text-anchor="end" fill="#5a5a5a" >0.53</text>
<text x="326.20" y="64.75" font-size="2.4" textLength="4.00" lengthAdjust="spacingAndGlyphs" text-anchor="end" fill="#5a5a5a" >0.45</text>
<text x="326.20" y="69.28" font-size="2.4" textLength="4.00" lengthAdjust="spacingAndGlyphs" text-anchor="end" fill="#5a5a5a" >0.38</text>
<text x="326.20" y="73.80" font-size="2.4" textLength="4.00" lengthAdjust="spacingAndGlyphs" text-anchor="end" fill="#5a5a5a" >0.30</text>
<text x="326.20" y="78.33" font-size="2.4" textLength="4.00" lengthAdjust="spacingAndGlyphs" text-anchor="end" fill="#5a5a5a" >0.22</text>
<text x="326.20" y="82.85" font-size="2.4" textLength="4.00" lengthAdjust="spacingAndGlyphs" text-anchor="end" fill="#5a5a5a" >0.15</text>
<text x="326.20" y="87.38" font-size="2.4" textLength="4.00" lengthAdjust="spacingAndGlyphs" text-anchor="end" fill="#5a5a5a" >0.07</text>
<text x="326.20" y="91.90" font-size="2.4" textLength="4.00" lengthAdjust="spacingAndGlyphs" text-anchor="end" fill="#5a5a5a" >-0.05</text>
<text transform="translate(321.4,88.0) rotate(-90)" font-size="2.6" font-weight="bold" fill="#666" textLength="31.2" lengthAdjust="spacingAndGlyphs">Enrichment score (ES)</text>
<text transform="translate(321.4,138.8) rotate(-90)" font-size="2.6" font-weight="bold" fill="#666" textLength="26.6" lengthAdjust="spacingAndGlyphs">Ranked list metric (Signal2Noise)</text>
<polyline points="327.6,54.6 329.0,54.3 331.0,55.4 335.4,57.8 345.8,61.2 356.1,66.4 366.5,71.6 376.9,76.8 387.3,81.1 397.7,85.5 406.3,88.9 408.9,89.8 410.6,88.6 411.5,88.2" fill="none" stroke="#a6e47e" stroke-width="1.1" stroke-linejoin="round"/>
<rect x="327.4" y="92.0" width="84.5" height="12.700000000000003" fill="#fff"/>
<rect x="328.10" y="92.0" width="1.2" height="12.700000000000003" fill="#555"/>
<rect x="338.00" y="92.0" width="1.0" height="12.700000000000003" fill="#777"/>
<rect x="341.00" y="92.0" width="1.0" height="12.700000000000003" fill="#888"/>
<rect x="345.00" y="92.0" width="0.9" height="12.700000000000003" fill="#777"/>
<rect x="355.20" y="92.0" width="1.0" height="12.700000000000003" fill="#999"/>
<rect x="365.00" y="92.0" width="1.0" height="12.700000000000003" fill="#999"/>
<rect x="370.20" y="92.0" width="0.9" height="12.700000000000003" fill="#999"/>
<rect x="372.80" y="92.0" width="0.9" height="12.700000000000003" fill="#999"/>
<rect x="375.80" y="92.0" width="1.0" height="12.700000000000003" fill="#999"/>
<rect x="395.40" y="92.0" width="1.0" height="12.700000000000003" fill="#999"/>
<rect x="398.30" y="92.0" width="1.0" height="12.700000000000003" fill="#999"/>
<rect x="409.80" y="92.0" width="1.0" height="12.700000000000003" fill="#666"/>
<defs><linearGradient id="g4" x1="0" x2="1" y1="0" y2="0"><stop offset="0" stop-color="#cc3c4e"/><stop offset="0.3" stop-color="#d45a6c"/><stop offset="0.4" stop-color="#e0a0b6"/><stop offset="0.5" stop-color="#e8cce0"/><stop offset="0.6" stop-color="#d6d0f2"/><stop offset="0.7" stop-color="#c0b8ee"/><stop offset="0.8" stop-color="#8880e0"/><stop offset="0.88" stop-color="#4844c8"/><stop offset="0.96" stop-color="#26249e"/><stop offset="1" stop-color="#141470"/></linearGradient></defs>
<rect x="327.4" y="104.7" width="84.5" height="3.5" fill="url(#g4)"/>
<text x="327.90" y="110.10" font-size="2.2" textLength="33.80" lengthAdjust="spacingAndGlyphs" fill="#c04050" >'HOXB4' (positively correlated)</text>
<rect x="327.4" y="110.2" width="84.5" height="24.60000000000001" fill="#fff" stroke="#c8c8c8" stroke-width="0.4"/>
<path d="M327.7,122.89999999999999 L327.7,118.5 C328.2,119.1 329.9,120.8 335.4,121.3 L408.9,121.8 C410.4,122.1 411.09999999999997,123.6 411.5,125.2 L411.5,122.89999999999999 Z" fill="#dadada" stroke="#999" stroke-width="0.4"/>
<text x="326.20" y="111.60" font-size="2.4" textLength="3.60" lengthAdjust="spacingAndGlyphs" text-anchor="end" fill="#5a5a5a" >1.00</text>
<text x="326.20" y="115.72" font-size="2.4" textLength="3.60" lengthAdjust="spacingAndGlyphs" text-anchor="end" fill="#5a5a5a" >0.75</text>
<text x="326.20" y="119.84" font-size="2.4" textLength="3.60" lengthAdjust="spacingAndGlyphs" text-anchor="end" fill="#5a5a5a" >0.50</text>
<text x="326.20" y="123.96" font-size="2.4" textLength="3.60" lengthAdjust="spacingAndGlyphs" text-anchor="end" fill="#5a5a5a" >0.25</text>
<text x="326.20" y="128.08" font-size="2.4" textLength="3.60" lengthAdjust="spacingAndGlyphs" text-anchor="end" fill="#5a5a5a" >0.00</text>
<text x="326.20" y="132.20" font-size="2.4" textLength="3.60" lengthAdjust="spacingAndGlyphs" text-anchor="end" fill="#5a5a5a" >-0.25</text>
<text x="361.20" y="121.40" font-size="2.4" textLength="16.05" lengthAdjust="spacingAndGlyphs" fill="#444" >Zero cross at 4762</text>
<text x="372.19" y="132.40" font-size="2.3" textLength="28.73" lengthAdjust="spacingAndGlyphs" fill="#4a40c8" >'GFP' (negatively correlated)</text>
<text x="327.40" y="137.20" font-size="2.1" text-anchor="middle" fill="#666" >0</text>
<text x="336.15" y="137.20" font-size="2.1" text-anchor="middle" fill="#666" >2,000</text>
<text x="344.90" y="137.20" font-size="2.1" text-anchor="middle" fill="#666" >4,000</text>
<text x="353.65" y="137.20" font-size="2.1" text-anchor="middle" fill="#666" >6,000</text>
<text x="362.40" y="137.20" font-size="2.1" text-anchor="middle" fill="#666" >8,000</text>
<text x="371.15" y="137.20" font-size="2.1" text-anchor="middle" fill="#666" >10,000</text>
<text x="379.90" y="137.20" font-size="2.1" text-anchor="middle" fill="#666" >12,000</text>
<text x="388.65" y="137.20" font-size="2.1" text-anchor="middle" fill="#666" >14,000</text>
<text x="397.40" y="137.20" font-size="2.1" text-anchor="middle" fill="#666" >16,000</text>
<text x="406.15" y="137.20" font-size="2.1" text-anchor="middle" fill="#666" >18,000</text>
<text x="414.90" y="137.20" font-size="2.1" text-anchor="middle" fill="#666" >20,000</text>
<text x="356.97" y="140.00" font-size="2.2" font-weight="bold" textLength="27.89" lengthAdjust="spacingAndGlyphs" fill="#666" >Rank in Ordered Dataset</text>
<rect x="332.9" y="143.8" width="69.10000000000002" height="3.1999999999999886" fill="#fff" stroke="#999" stroke-width="0.5"/>
<line x1="333.9" x2="337.7" y1="145.4" y2="145.4" stroke="#8ad060" stroke-width="0.8"/>
<line x1="359.8" x2="363.3" y1="145.4" y2="145.4" stroke="#333" stroke-width="0.6"/>
<line x1="370.9" x2="375.1" y1="145.4" y2="145.4" stroke="#999" stroke-width="0.8"/>
<text x="338.43" y="145.80" font-size="2.0" textLength="20.73" lengthAdjust="spacingAndGlyphs" fill="#666" >Enrichment profile</text>
<text x="364.00" y="145.80" font-size="2.0" textLength="5.53" lengthAdjust="spacingAndGlyphs" fill="#666" >Hits</text>
<text x="375.74" y="145.80" font-size="2.0" textLength="23.49" lengthAdjust="spacingAndGlyphs" fill="#666" >Ranking metric scores</text>
<rect x="420.3" y="47.3" width="96.30000000000001" height="101.7" fill="#eae9da"/>
<rect x="431.0" y="52.5" width="84.10000000000002" height="81.69999999999999" fill="#f8f8f2"/>
<text x="428.50" y="50.80" font-size="3.3" stroke="#111" stroke-width="0.15" font-weight="bold" textLength="83.00" lengthAdjust="spacingAndGlyphs" fill="#111" >Enrichment plot: IP_B_CELL_DIFFERENTIATION</text>
<rect x="431.0" y="52.5" width="82.60000000000002" height="38.8" fill="#fff" stroke="#c8c8c8" stroke-width="0.4"/>
<line x1="431.0" x2="513.6" y1="59.0" y2="59.0" stroke="#eee" stroke-width="0.4"/>
<line x1="431.0" x2="513.6" y1="65.4" y2="65.4" stroke="#eee" stroke-width="0.4"/>
<line x1="431.0" x2="513.6" y1="71.9" y2="71.9" stroke="#eee" stroke-width="0.4"/>
<line x1="431.0" x2="513.6" y1="78.4" y2="78.4" stroke="#eee" stroke-width="0.4"/>
<line x1="431.0" x2="513.6" y1="84.8" y2="84.8" stroke="#eee" stroke-width="0.4"/>
<line x1="431.0" x2="513.6" y1="84.0" y2="84.0" stroke="#9a9a9a" stroke-width="0.5"/>
<text x="429.80" y="55.40" font-size="2.4" textLength="4.00" lengthAdjust="spacingAndGlyphs" text-anchor="end" fill="#5a5a5a" >0.60</text>
<text x="429.80" y="59.88" font-size="2.4" textLength="4.00" lengthAdjust="spacingAndGlyphs" text-anchor="end" fill="#5a5a5a" >0.53</text>
<text x="429.80" y="64.35" font-size="2.4" textLength="4.00" lengthAdjust="spacingAndGlyphs" text-anchor="end" fill="#5a5a5a" >0.45</text>
<text x="429.80" y="68.83" font-size="2.4" textLength="4.00" lengthAdjust="spacingAndGlyphs" text-anchor="end" fill="#5a5a5a" >0.38</text>
<text x="429.80" y="73.30" font-size="2.4" textLength="4.00" lengthAdjust="spacingAndGlyphs" text-anchor="end" fill="#5a5a5a" >0.30</text>
<text x="429.80" y="77.78" font-size="2.4" textLength="4.00" lengthAdjust="spacingAndGlyphs" text-anchor="end" fill="#5a5a5a" >0.22</text>
<text x="429.80" y="82.25" font-size="2.4" textLength="4.00" lengthAdjust="spacingAndGlyphs" text-anchor="end" fill="#5a5a5a" >0.15</text>
<text x="429.80" y="86.72" font-size="2.4" textLength="4.00" lengthAdjust="spacingAndGlyphs" text-anchor="end" fill="#5a5a5a" >0.07</text>
<text x="429.80" y="91.20" font-size="2.4" textLength="4.00" lengthAdjust="spacingAndGlyphs" text-anchor="end" fill="#5a5a5a" >-0.05</text>
<text transform="translate(425.3,87.3) rotate(-90)" font-size="2.6" font-weight="bold" fill="#666" textLength="30.8" lengthAdjust="spacingAndGlyphs">Enrichment score (ES)</text>
<text transform="translate(425.3,138.2) rotate(-90)" font-size="2.6" font-weight="bold" fill="#666" textLength="26.2" lengthAdjust="spacingAndGlyphs">Ranked list metric (Signal2Noise)</text>
<polyline points="431.2,55.7 433.1,54.6 437.0,54.6 440.6,55.2 447.0,57.8 457.7,63.1 468.4,68.5 479.0,73.8 489.7,79.1 500.4,84.5 505.0,86.7 509.0,88.7 511.0,88.7 512.0,86.0 513.2,83.4" fill="none" stroke="#a6e47e" stroke-width="1.1" stroke-linejoin="round"/>
<rect x="431.0" y="91.3" width="82.60000000000002" height="12.600000000000009" fill="#fff"/>
<rect x="430.50" y="91.3" width="1.6" height="12.600000000000009" fill="#555"/>
<rect x="433.10" y="91.3" width="0.8" height="12.600000000000009" fill="#aaa"/>
<rect x="436.50" y="91.3" width="1.1" height="12.600000000000009" fill="#888"/>
<rect x="439.10" y="91.3" width="0.9" height="12.600000000000009" fill="#aaa"/>
<rect x="448.00" y="91.3" width="0.9" height="12.600000000000009" fill="#888"/>
<rect x="457.10" y="91.3" width="1.1" height="12.600000000000009" fill="#aaa"/>
<rect x="465.90" y="91.3" width="1.2" height="12.600000000000009" fill="#888"/>
<rect x="481.10" y="91.3" width="0.7" height="12.600000000000009" fill="#999"/>
<rect x="497.00" y="91.3" width="1.1" height="12.600000000000009" fill="#999"/>
<rect x="509.00" y="91.3" width="0.7" height="12.600000000000009" fill="#999"/>
<rect x="510.90" y="91.3" width="1.8" height="12.600000000000009" fill="#555"/>
<defs><linearGradient id="g5" x1="0" x2="1" y1="0" y2="0"><stop offset="0" stop-color="#cc3c4e"/><stop offset="0.3" stop-color="#d45a6c"/><stop offset="0.4" stop-color="#e0a0b6"/><stop offset="0.5" stop-color="#e8cce0"/><stop offset="0.6" stop-color="#d6d0f2"/><stop offset="0.7" stop-color="#c0b8ee"/><stop offset="0.8" stop-color="#8880e0"/><stop offset="0.88" stop-color="#4844c8"/><stop offset="0.96" stop-color="#26249e"/><stop offset="1" stop-color="#141470"/></linearGradient></defs>
<rect x="431.0" y="103.9" width="82.60000000000002" height="3.799999999999997" fill="url(#g5)"/>
<text x="431.50" y="109.60" font-size="2.2" textLength="33.04" lengthAdjust="spacingAndGlyphs" fill="#c04050" >'HOXB4' (positively correlated)</text>
<rect x="431.0" y="110.0" width="82.60000000000002" height="24.19999999999999" fill="#fff" stroke="#c8c8c8" stroke-width="0.4"/>
<path d="M431.3,120.1 L431.3,110.5 C431.8,116.3 433.5,118.0 439.0,118.5 L510.6,119.0 C512.1,119.3 512.8000000000001,120.8 513.2,130.4 L513.2,120.1 Z" fill="#dadada" stroke="#999" stroke-width="0.4"/>
<text x="429.80" y="111.40" font-size="2.4" textLength="3.60" lengthAdjust="spacingAndGlyphs" text-anchor="end" fill="#5a5a5a" >1.00</text>
<text x="429.80" y="115.44" font-size="2.4" textLength="3.60" lengthAdjust="spacingAndGlyphs" text-anchor="end" fill="#5a5a5a" >0.75</text>
<text x="429.80" y="119.48" font-size="2.4" textLength="3.60" lengthAdjust="spacingAndGlyphs" text-anchor="end" fill="#5a5a5a" >0.50</text>
<text x="429.80" y="123.52" font-size="2.4" textLength="3.60" lengthAdjust="spacingAndGlyphs" text-anchor="end" fill="#5a5a5a" >0.25</text>
<text x="429.80" y="127.56" font-size="2.4" textLength="3.60" lengthAdjust="spacingAndGlyphs" text-anchor="end" fill="#5a5a5a" >0.00</text>
<text x="429.80" y="131.60" font-size="2.4" textLength="3.60" lengthAdjust="spacingAndGlyphs" text-anchor="end" fill="#5a5a5a" >-0.25</text>
<text x="469.00" y="120.60" font-size="2.4" textLength="15.69" lengthAdjust="spacingAndGlyphs" fill="#444" >Zero cross at 5488</text>
<text x="474.78" y="131.80" font-size="2.3" textLength="28.08" lengthAdjust="spacingAndGlyphs" fill="#4a40c8" >'GFP' (negatively correlated)</text>
<text x="431.00" y="136.60" font-size="2.1" text-anchor="middle" fill="#666" >0</text>
<text x="439.56" y="136.60" font-size="2.1" text-anchor="middle" fill="#666" >2,000</text>
<text x="448.12" y="136.60" font-size="2.1" text-anchor="middle" fill="#666" >4,000</text>
<text x="456.68" y="136.60" font-size="2.1" text-anchor="middle" fill="#666" >6,000</text>
<text x="465.24" y="136.60" font-size="2.1" text-anchor="middle" fill="#666" >8,000</text>
<text x="473.80" y="136.60" font-size="2.1" text-anchor="middle" fill="#666" >10,000</text>
<text x="482.36" y="136.60" font-size="2.1" text-anchor="middle" fill="#666" >12,000</text>
<text x="490.92" y="136.60" font-size="2.1" text-anchor="middle" fill="#666" >14,000</text>
<text x="499.48" y="136.60" font-size="2.1" text-anchor="middle" fill="#666" >16,000</text>
<text x="508.04" y="136.60" font-size="2.1" text-anchor="middle" fill="#666" >18,000</text>
<text x="516.60" y="136.60" font-size="2.1" text-anchor="middle" fill="#666" >20,000</text>
<text x="459.91" y="139.40" font-size="2.2" font-weight="bold" textLength="27.26" lengthAdjust="spacingAndGlyphs" fill="#666" >Rank in Ordered Dataset</text>
<rect x="435.3" y="142.7" width="69.30000000000001" height="3.700000000000017" fill="#fff" stroke="#999" stroke-width="0.5"/>
<line x1="436.3" x2="440.2" y1="144.6" y2="144.6" stroke="#8ad060" stroke-width="0.8"/>
<line x1="462.3" x2="465.8" y1="144.6" y2="144.6" stroke="#333" stroke-width="0.6"/>
<line x1="473.4" x2="477.6" y1="144.6" y2="144.6" stroke="#999" stroke-width="0.8"/>
<text x="440.84" y="145.20" font-size="2.0" textLength="20.79" lengthAdjust="spacingAndGlyphs" fill="#666" >Enrichment profile</text>
<text x="466.49" y="145.20" font-size="2.0" textLength="5.54" lengthAdjust="spacingAndGlyphs" fill="#666" >Hits</text>
<text x="478.27" y="145.20" font-size="2.0" textLength="23.56" lengthAdjust="spacingAndGlyphs" fill="#666" >Ranking metric scores</text>
<text x="2.00" y="200.00" font-size="10.8" stroke="#111" stroke-width="0.12" font-weight="bold" fill="#111" >B</text>
<text x="2.50" y="212.00" font-size="9.5" stroke="#111" stroke-width="0.12" font-weight="bold" textLength="57.50" lengthAdjust="spacingAndGlyphs" fill="#111" >12wk HOXB4</text>
<text x="111.25" y="212.00" font-size="9.5" stroke="#111" stroke-width="0.12" font-weight="bold" textLength="56.80" lengthAdjust="spacingAndGlyphs" fill="#111" >20wk HOXB4</text>
<text x="210.50" y="212.00" font-size="9.5" stroke="#111" stroke-width="0.12" font-weight="bold" textLength="57.50" lengthAdjust="spacingAndGlyphs" fill="#111" >20wk HOXB4</text>
<text x="12.00" y="236.30" font-size="9.0" stroke="#111" stroke-width="0.12" font-weight="bold" textLength="153.50" lengthAdjust="spacingAndGlyphs" fill="#111" >HEMATOPOIESIS STEM CELL PATHWAY</text>
<text x="187.00" y="236.30" font-size="9.0" stroke="#111" stroke-width="0.12" font-weight="bold" textLength="110.50" lengthAdjust="spacingAndGlyphs" fill="#111" >HEMATOPOIESIS STEM CELL</text>
<text x="198.00" y="248.10" font-size="9.0" stroke="#111" stroke-width="0.12" font-weight="bold" textLength="90.70" lengthAdjust="spacingAndGlyphs" fill="#111" >LONG TERM PATHWAY</text>
<path d="M34.7,253.6 V246.6 H135.8 V253.6" fill="none" stroke="#000" stroke-width="2" stroke-linejoin="round" stroke-linecap="round"/>
<text transform="translate(20.9,289.2) rotate(-90)" x="0" y="0" font-size="9" font-weight="bold" fill="#111" stroke="#111" stroke-width="0.3" textLength="30.4" lengthAdjust="spacingAndGlyphs">HOXB4</text>
<text transform="translate(44.4,287.0) rotate(-90)" x="0" y="0" font-size="8.6" font-weight="bold" fill="#111" stroke="#111" stroke-width="0.3" textLength="16.3" lengthAdjust="spacingAndGlyphs">GFP</text>
<text transform="translate(127.3,289.2) rotate(-90)" x="0" y="0" font-size="9" font-weight="bold" fill="#111" stroke="#111" stroke-width="0.3" textLength="30.4" lengthAdjust="spacingAndGlyphs">HOXB4</text>
<text transform="translate(151.0,286.8) rotate(-90)" x="0" y="0" font-size="8.6" font-weight="bold" fill="#111" stroke="#111" stroke-width="0.3" textLength="16.3" lengthAdjust="spacingAndGlyphs">GFP</text>
<text transform="translate(231.8,289.2) rotate(-90)" x="0" y="0" font-size="9" font-weight="bold" fill="#111" stroke="#111" stroke-width="0.3" textLength="30.4" lengthAdjust="spacingAndGlyphs">HOXB4</text>
<text transform="translate(258.2,286.8) rotate(-90)" x="0" y="0" font-size="8.6" font-weight="bold" fill="#111" stroke="#111" stroke-width="0.3" textLength="16.3" lengthAdjust="spacingAndGlyphs">GFP</text>
<rect x="1.20" y="293.00" width="10.25" height="6.59" fill="#e60a0a"/>
<rect x="10.45" y="293.00" width="10.25" height="6.59" fill="#e60a0a"/>
<rect x="19.70" y="293.00" width="10.25" height="6.59" fill="#e60a0a"/>
<rect x="28.95" y="293.00" width="10.25" height="6.59" fill="#3038ee"/>
<rect x="38.20" y="293.00" width="10.25" height="6.59" fill="#1818ee"/>
<rect x="47.45" y="293.00" width="9.25" height="6.59" fill="#3038ee"/>
<rect x="1.20" y="298.59" width="10.25" height="6.59" fill="#e60a0a"/>
<rect x="10.45" y="298.59" width="10.25" height="6.59" fill="#f2b0b0"/>
<rect x="19.70" y="298.59" width="10.25" height="6.59" fill="#e60a0a"/>
<rect x="28.95" y="298.59" width="10.25" height="6.59" fill="#8c94f2"/>
<rect x="38.20" y="298.59" width="10.25" height="6.59" fill="#1818ee"/>
<rect x="47.45" y="298.59" width="9.25" height="6.59" fill="#1818ee"/>
<rect x="1.20" y="304.18" width="10.25" height="6.59" fill="#ec8a8a"/>
<rect x="10.45" y="304.18" width="10.25" height="6.59" fill="#e60a0a"/>
<rect x="19.70" y="304.18" width="10.25" height="6.59" fill="#e60a0a"/>
<rect x="28.95" y="304.18" width="10.25" height="6.59" fill="#1818ee"/>
<rect x="38.20" y="304.18" width="10.25" height="6.59" fill="#6670f0"/>
<rect x="47.45" y="304.18" width="9.25" height="6.59" fill="#1818ee"/>
<rect x="1.20" y="309.77" width="10.25" height="6.59" fill="#e60a0a"/>
<rect x="10.45" y="309.77" width="10.25" height="6.59" fill="#ec8a8a"/>
<rect x="19.70" y="309.77" width="10.25" height="6.59" fill="#e60a0a"/>
<rect x="28.95" y="309.77" width="10.25" height="6.59" fill="#aab0f4"/>
<rect x="38.20" y="309.77" width="10.25" height="6.59" fill="#1818ee"/>
<rect x="47.45" y="309.77" width="9.25" height="6.59" fill="#1818ee"/>
<rect x="1.20" y="315.35" width="10.25" height="6.59" fill="#f5d0d0"/>
<rect x="10.45" y="315.35" width="10.25" height="6.59" fill="#e60a0a"/>
<rect x="19.70" y="315.35" width="10.25" height="6.59" fill="#f5d0d0"/>
<rect x="28.95" y="315.35" width="10.25" height="6.59" fill="#aab0f4"/>
<rect x="38.20" y="315.35" width="10.25" height="6.59" fill="#1818ee"/>
<rect x="47.45" y="315.35" width="9.25" height="6.59" fill="#ecebf6"/>
<rect x="1.20" y="320.94" width="10.25" height="6.59" fill="#e33535"/>
<rect x="10.45" y="320.94" width="10.25" height="6.59" fill="#e60a0a"/>
<rect x="19.70" y="320.94" width="10.25" height="6.59" fill="#ec8a8a"/>
<rect x="28.95" y="320.94" width="10.25" height="6.59" fill="#3038ee"/>
<rect x="38.20" y="320.94" width="10.25" height="6.59" fill="#1818ee"/>
<rect x="47.45" y="320.94" width="9.25" height="6.59" fill="#1818ee"/>
<rect x="1.20" y="326.53" width="10.25" height="6.59" fill="#f5d0d0"/>
<rect x="10.45" y="326.53" width="10.25" height="6.59" fill="#ec8a8a"/>
<rect x="19.70" y="326.53" width="10.25" height="6.59" fill="#e60a0a"/>
<rect x="28.95" y="326.53" width="10.25" height="6.59" fill="#aab0f4"/>
<rect x="38.20" y="326.53" width="10.25" height="6.59" fill="#6670f0"/>
<rect x="47.45" y="326.53" width="9.25" height="6.59" fill="#1818ee"/>
<rect x="1.20" y="332.12" width="10.25" height="6.59" fill="#e33535"/>
<rect x="10.45" y="332.12" width="10.25" height="6.59" fill="#f6f0f0"/>
<rect x="19.70" y="332.12" width="10.25" height="6.59" fill="#e60a0a"/>
<rect x="28.95" y="332.12" width="10.25" height="6.59" fill="#6670f0"/>
<rect x="38.20" y="332.12" width="10.25" height="6.59" fill="#1818ee"/>
<rect x="47.45" y="332.12" width="9.25" height="6.59" fill="#aab0f4"/>
<rect x="1.20" y="337.71" width="10.25" height="6.59" fill="#f5d0d0"/>
<rect x="10.45" y="337.71" width="10.25" height="6.59" fill="#e60a0a"/>
<rect x="19.70" y="337.71" width="10.25" height="6.59" fill="#e60a0a"/>
<rect x="28.95" y="337.71" width="10.25" height="6.59" fill="#ecebf6"/>
<rect x="38.20" y="337.71" width="10.25" height="6.59" fill="#1818ee"/>
<rect x="47.45" y="337.71" width="9.25" height="6.59" fill="#1818ee"/>
<rect x="1.20" y="343.30" width="10.25" height="6.59" fill="#ec8a8a"/>
<rect x="10.45" y="343.30" width="10.25" height="6.59" fill="#e60a0a"/>
<rect x="19.70" y="343.30" width="10.25" height="6.59" fill="#e60a0a"/>
<rect x="28.95" y="343.30" width="10.25" height="6.59" fill="#1818ee"/>
<rect x="38.20" y="343.30" width="10.25" height="6.59" fill="#1818ee"/>
<rect x="47.45" y="343.30" width="9.25" height="6.59" fill="#1818ee"/>
<rect x="1.20" y="348.89" width="10.25" height="6.59" fill="#ec8a8a"/>
<rect x="10.45" y="348.89" width="10.25" height="6.59" fill="#e60a0a"/>
<rect x="19.70" y="348.89" width="10.25" height="6.59" fill="#e60a0a"/>
<rect x="28.95" y="348.89" width="10.25" height="6.59" fill="#1818ee"/>
<rect x="38.20" y="348.89" width="10.25" height="6.59" fill="#1818ee"/>
<rect x="47.45" y="348.89" width="9.25" height="6.59" fill="#1818ee"/>
<rect x="1.20" y="354.47" width="10.25" height="6.59" fill="#e60a0a"/>
<rect x="10.45" y="354.47" width="10.25" height="6.59" fill="#e60a0a"/>
<rect x="19.70" y="354.47" width="10.25" height="6.59" fill="#f6f0f0"/>
<rect x="28.95" y="354.47" width="10.25" height="6.59" fill="#6670f0"/>
<rect x="38.20" y="354.47" width="10.25" height="6.59" fill="#aab0f4"/>
<rect x="47.45" y="354.47" width="9.25" height="6.59" fill="#1818ee"/>
<rect x="1.20" y="360.06" width="10.25" height="6.59" fill="#ec8a8a"/>
<rect x="10.45" y="360.06" width="10.25" height="6.59" fill="#e33535"/>
<rect x="19.70" y="360.06" width="10.25" height="6.59" fill="#e60a0a"/>
<rect x="28.95" y="360.06" width="10.25" height="6.59" fill="#1818ee"/>
<rect x="38.20" y="360.06" width="10.25" height="6.59" fill="#1818ee"/>
<rect x="47.45" y="360.06" width="9.25" height="6.59" fill="#8c94f2"/>
<rect x="1.20" y="365.65" width="10.25" height="6.59" fill="#3038ee"/>
<rect x="10.45" y="365.65" width="10.25" height="6.59" fill="#f5d0d0"/>
<rect x="19.70" y="365.65" width="10.25" height="6.59" fill="#e60a0a"/>
<rect x="28.95" y="365.65" width="10.25" height="6.59" fill="#aab0f4"/>
<rect x="38.20" y="365.65" width="10.25" height="6.59" fill="#6670f0"/>
<rect x="47.45" y="365.65" width="9.25" height="6.59" fill="#8c94f2"/>
<rect x="1.20" y="371.24" width="10.25" height="6.59" fill="#e60a0a"/>
<rect x="10.45" y="371.24" width="10.25" height="6.59" fill="#f5d0d0"/>
<rect x="19.70" y="371.24" width="10.25" height="6.59" fill="#e66262"/>
<rect x="28.95" y="371.24" width="10.25" height="6.59" fill="#1818ee"/>
<rect x="38.20" y="371.24" width="10.25" height="6.59" fill="#d2d6f6"/>
<rect x="47.45" y="371.24" width="9.25" height="6.59" fill="#3038ee"/>
<rect x="1.20" y="376.83" width="10.25" height="6.59" fill="#f6f0f0"/>
<rect x="10.45" y="376.83" width="10.25" height="6.59" fill="#e60a0a"/>
<rect x="19.70" y="376.83" width="10.25" height="6.59" fill="#e66262"/>
<rect x="28.95" y="376.83" width="10.25" height="6.59" fill="#1818ee"/>
<rect x="38.20" y="376.83" width="10.25" height="6.59" fill="#f5d0d0"/>
<rect x="47.45" y="376.83" width="9.25" height="6.59" fill="#1818ee"/>
<rect x="1.20" y="382.42" width="10.25" height="6.59" fill="#e60a0a"/>
<rect x="10.45" y="382.42" width="10.25" height="6.59" fill="#e60a0a"/>
<rect x="19.70" y="382.42" width="10.25" height="6.59" fill="#e60a0a"/>
<rect x="28.95" y="382.42" width="10.25" height="6.59" fill="#1818ee"/>
<rect x="38.20" y="382.42" width="10.25" height="6.59" fill="#1818ee"/>
<rect x="47.45" y="382.42" width="9.25" height="6.59" fill="#8c94f2"/>
<rect x="1.20" y="388.01" width="10.25" height="6.59" fill="#f5d0d0"/>
<rect x="10.45" y="388.01" width="10.25" height="6.59" fill="#e60a0a"/>
<rect x="19.70" y="388.01" width="10.25" height="6.59" fill="#f2b0b0"/>
<rect x="28.95" y="388.01" width="10.25" height="6.59" fill="#1818ee"/>
<rect x="38.20" y="388.01" width="10.25" height="6.59" fill="#1818ee"/>
<rect x="47.45" y="388.01" width="9.25" height="6.59" fill="#ec8a8a"/>
<rect x="1.20" y="393.59" width="10.25" height="6.59" fill="#e60a0a"/>
<rect x="10.45" y="393.59" width="10.25" height="6.59" fill="#e60a0a"/>
<rect x="19.70" y="393.59" width="10.25" height="6.59" fill="#3038ee"/>
<rect x="28.95" y="393.59" width="10.25" height="6.59" fill="#1818ee"/>
<rect x="38.20" y="393.59" width="10.25" height="6.59" fill="#f2b0b0"/>
<rect x="47.45" y="393.59" width="9.25" height="6.59" fill="#3038ee"/>
<rect x="1.20" y="399.18" width="10.25" height="6.59" fill="#d2d6f6"/>
<rect x="10.45" y="399.18" width="10.25" height="6.59" fill="#e60a0a"/>
<rect x="19.70" y="399.18" width="10.25" height="6.59" fill="#f6f0f0"/>
<rect x="28.95" y="399.18" width="10.25" height="6.59" fill="#1818ee"/>
<rect x="38.20" y="399.18" width="10.25" height="6.59" fill="#f5d0d0"/>
<rect x="47.45" y="399.18" width="9.25" height="6.59" fill="#aab0f4"/>
<rect x="1.20" y="404.77" width="10.25" height="6.59" fill="#e60a0a"/>
<rect x="10.45" y="404.77" width="10.25" height="6.59" fill="#f6f0f0"/>
<rect x="19.70" y="404.77" width="10.25" height="6.59" fill="#e60a0a"/>
<rect x="28.95" y="404.77" width="10.25" height="6.59" fill="#6670f0"/>
<rect x="38.20" y="404.77" width="10.25" height="6.59" fill="#6670f0"/>
<rect x="47.45" y="404.77" width="9.25" height="6.59" fill="#1818ee"/>
<rect x="1.20" y="410.36" width="10.25" height="6.59" fill="#f2b0b0"/>
<rect x="10.45" y="410.36" width="10.25" height="6.59" fill="#f2b0b0"/>
<rect x="19.70" y="410.36" width="10.25" height="6.59" fill="#f5d0d0"/>
<rect x="28.95" y="410.36" width="10.25" height="6.59" fill="#1818ee"/>
<rect x="38.20" y="410.36" width="10.25" height="6.59" fill="#e33535"/>
<rect x="47.45" y="410.36" width="9.25" height="6.59" fill="#1818ee"/>
<rect x="1.20" y="415.95" width="10.25" height="6.59" fill="#f5d0d0"/>
<rect x="10.45" y="415.95" width="10.25" height="6.59" fill="#e60a0a"/>
<rect x="19.70" y="415.95" width="10.25" height="6.59" fill="#ec8a8a"/>
<rect x="28.95" y="415.95" width="10.25" height="6.59" fill="#f5d0d0"/>
<rect x="38.20" y="415.95" width="10.25" height="6.59" fill="#aab0f4"/>
<rect x="47.45" y="415.95" width="9.25" height="6.59" fill="#1818ee"/>
<rect x="1.20" y="421.54" width="10.25" height="6.59" fill="#ec8a8a"/>
<rect x="10.45" y="421.54" width="10.25" height="6.59" fill="#f5d0d0"/>
<rect x="19.70" y="421.54" width="10.25" height="6.59" fill="#e60a0a"/>
<rect x="28.95" y="421.54" width="10.25" height="6.59" fill="#1818ee"/>
<rect x="38.20" y="421.54" width="10.25" height="6.59" fill="#6670f0"/>
<rect x="47.45" y="421.54" width="9.25" height="6.59" fill="#aab0f4"/>
<rect x="1.20" y="427.13" width="10.25" height="6.59" fill="#f2b0b0"/>
<rect x="10.45" y="427.13" width="10.25" height="6.59" fill="#ec8a8a"/>
<rect x="19.70" y="427.13" width="10.25" height="6.59" fill="#f5d0d0"/>
<rect x="28.95" y="427.13" width="10.25" height="6.59" fill="#1818ee"/>
<rect x="38.20" y="427.13" width="10.25" height="6.59" fill="#f6f0f0"/>
<rect x="47.45" y="427.13" width="9.25" height="6.59" fill="#e60a0a"/>
<rect x="1.20" y="432.71" width="10.25" height="6.59" fill="#f2b0b0"/>
<rect x="10.45" y="432.71" width="10.25" height="6.59" fill="#ec8a8a"/>
<rect x="19.70" y="432.71" width="10.25" height="6.59" fill="#e60a0a"/>
<rect x="28.95" y="432.71" width="10.25" height="6.59" fill="#8c94f2"/>
<rect x="38.20" y="432.71" width="10.25" height="6.59" fill="#1818ee"/>
<rect x="47.45" y="432.71" width="9.25" height="6.59" fill="#ecebf6"/>
<rect x="1.20" y="438.30" width="10.25" height="6.59" fill="#e60a0a"/>
<rect x="10.45" y="438.30" width="10.25" height="6.59" fill="#f6f0f0"/>
<rect x="19.70" y="438.30" width="10.25" height="6.59" fill="#ec8a8a"/>
<rect x="28.95" y="438.30" width="10.25" height="6.59" fill="#1818ee"/>
<rect x="38.20" y="438.30" width="10.25" height="6.59" fill="#f5d0d0"/>
<rect x="47.45" y="438.30" width="9.25" height="6.59" fill="#1818ee"/>
<rect x="1.20" y="443.89" width="10.25" height="6.59" fill="#3038ee"/>
<rect x="10.45" y="443.89" width="10.25" height="6.59" fill="#e60a0a"/>
<rect x="19.70" y="443.89" width="10.25" height="6.59" fill="#e60a0a"/>
<rect x="28.95" y="443.89" width="10.25" height="6.59" fill="#f6f0f0"/>
<rect x="38.20" y="443.89" width="10.25" height="6.59" fill="#8c94f2"/>
<rect x="47.45" y="443.89" width="9.25" height="6.59" fill="#6670f0"/>
<rect x="1.20" y="449.48" width="10.25" height="6.59" fill="#e33535"/>
<rect x="10.45" y="449.48" width="10.25" height="6.59" fill="#f2b0b0"/>
<rect x="19.70" y="449.48" width="10.25" height="6.59" fill="#e60a0a"/>
<rect x="28.95" y="449.48" width="10.25" height="6.59" fill="#1818ee"/>
<rect x="38.20" y="449.48" width="10.25" height="6.59" fill="#3038ee"/>
<rect x="47.45" y="449.48" width="9.25" height="6.59" fill="#3038ee"/>
<rect x="1.20" y="455.07" width="10.25" height="6.59" fill="#e60a0a"/>
<rect x="10.45" y="455.07" width="10.25" height="6.59" fill="#aab0f4"/>
<rect x="19.70" y="455.07" width="10.25" height="6.59" fill="#f2b0b0"/>
<rect x="28.95" y="455.07" width="10.25" height="6.59" fill="#1818ee"/>
<rect x="38.20" y="455.07" width="10.25" height="6.59" fill="#6670f0"/>
<rect x="47.45" y="455.07" width="9.25" height="6.59" fill="#ecebf6"/>
<rect x="1.20" y="460.66" width="10.25" height="6.59" fill="#e60a0a"/>
<rect x="10.45" y="460.66" width="10.25" height="6.59" fill="#aab0f4"/>
<rect x="19.70" y="460.66" width="10.25" height="6.59" fill="#e60a0a"/>
<rect x="28.95" y="460.66" width="10.25" height="6.59" fill="#d2d6f6"/>
<rect x="38.20" y="460.66" width="10.25" height="6.59" fill="#1818ee"/>
<rect x="47.45" y="460.66" width="9.25" height="6.59" fill="#f5d0d0"/>
<rect x="1.20" y="466.25" width="10.25" height="6.59" fill="#e60a0a"/>
<rect x="10.45" y="466.25" width="10.25" height="6.59" fill="#f2b0b0"/>
<rect x="19.70" y="466.25" width="10.25" height="6.59" fill="#3038ee"/>
<rect x="28.95" y="466.25" width="10.25" height="6.59" fill="#f5d0d0"/>
<rect x="38.20" y="466.25" width="10.25" height="6.59" fill="#8c94f2"/>
<rect x="47.45" y="466.25" width="9.25" height="6.59" fill="#1818ee"/>
<rect x="1.20" y="471.83" width="10.25" height="6.59" fill="#3038ee"/>
<rect x="10.45" y="471.83" width="10.25" height="6.59" fill="#e60a0a"/>
<rect x="19.70" y="471.83" width="10.25" height="6.59" fill="#d2d6f6"/>
<rect x="28.95" y="471.83" width="10.25" height="6.59" fill="#1818ee"/>
<rect x="38.20" y="471.83" width="10.25" height="6.59" fill="#8c94f2"/>
<rect x="47.45" y="471.83" width="9.25" height="6.59" fill="#e60a0a"/>
<rect x="1.20" y="477.42" width="10.25" height="6.59" fill="#1818ee"/>
<rect x="10.45" y="477.42" width="10.25" height="6.59" fill="#e60a0a"/>
<rect x="19.70" y="477.42" width="10.25" height="6.59" fill="#f5d0d0"/>
<rect x="28.95" y="477.42" width="10.25" height="6.59" fill="#3038ee"/>
<rect x="38.20" y="477.42" width="10.25" height="6.59" fill="#8c94f2"/>
<rect x="47.45" y="477.42" width="9.25" height="6.59" fill="#ec8a8a"/>
<rect x="1.20" y="483.01" width="10.25" height="5.59" fill="#1818ee"/>
<rect x="10.45" y="483.01" width="10.25" height="5.59" fill="#e60a0a"/>
<rect x="19.70" y="483.01" width="10.25" height="5.59" fill="#aab0f4"/>
<rect x="28.95" y="483.01" width="10.25" height="5.59" fill="#e33535"/>
<rect x="38.20" y="483.01" width="10.25" height="5.59" fill="#1818ee"/>
<rect x="47.45" y="483.01" width="9.25" height="5.59" fill="#aab0f4"/>
<text x="58.00" y="297.84" font-size="4.6" stroke="#111" stroke-width="0.15" font-weight="bold" textLength="8.28" lengthAdjust="spacingAndGlyphs" fill="#111" >JUN</text>
<text x="58.00" y="303.43" font-size="4.6" stroke="#111" stroke-width="0.15" font-weight="bold" textLength="11.27" lengthAdjust="spacingAndGlyphs" fill="#111" >EGR1</text>
<text x="58.00" y="309.02" font-size="4.6" stroke="#111" stroke-width="0.15" font-weight="bold" textLength="11.96" lengthAdjust="spacingAndGlyphs" fill="#111" >DDIT4</text>
<text x="58.00" y="314.61" font-size="4.6" stroke="#111" stroke-width="0.15" font-weight="bold" textLength="11.27" lengthAdjust="spacingAndGlyphs" fill="#111" >EMP1</text>
<text x="58.00" y="320.20" font-size="4.6" stroke="#111" stroke-width="0.15" font-weight="bold" textLength="9.43" lengthAdjust="spacingAndGlyphs" fill="#111" >GEM</text>
<text x="58.00" y="325.79" font-size="4.6" stroke="#111" stroke-width="0.15" font-weight="bold" textLength="37.26" lengthAdjust="spacingAndGlyphs" fill="#111" >CTLA2A/// CTLA2B</text>
<text x="58.00" y="331.38" font-size="4.6" stroke="#111" stroke-width="0.15" font-weight="bold" textLength="9.43" lengthAdjust="spacingAndGlyphs" fill="#111" >SKIL</text>
<text x="58.00" y="336.96" font-size="4.6" stroke="#111" stroke-width="0.15" font-weight="bold" textLength="7.36" lengthAdjust="spacingAndGlyphs" fill="#111" >IGK</text>
<text x="58.00" y="342.55" font-size="4.6" stroke="#111" stroke-width="0.15" font-weight="bold" textLength="10.35" lengthAdjust="spacingAndGlyphs" fill="#111" >ETV1</text>
<text x="58.00" y="348.14" font-size="4.6" stroke="#111" stroke-width="0.15" font-weight="bold" textLength="18.33" lengthAdjust="spacingAndGlyphs" fill="#111" >TSPAN13</text>
<text x="58.00" y="353.73" font-size="4.6" stroke="#111" stroke-width="0.15" font-weight="bold" textLength="14.72" lengthAdjust="spacingAndGlyphs" fill="#111" >ROBO3</text>
<text x="58.00" y="359.32" font-size="4.6" stroke="#111" stroke-width="0.15" font-weight="bold" textLength="8.74" lengthAdjust="spacingAndGlyphs" fill="#111" >PDC</text>
<text x="58.00" y="364.91" font-size="4.6" stroke="#111" stroke-width="0.15" font-weight="bold" textLength="14.49" lengthAdjust="spacingAndGlyphs" fill="#111" >SMAD7</text>
<text x="58.00" y="370.50" font-size="4.6" stroke="#111" stroke-width="0.15" font-weight="bold" textLength="16.03" lengthAdjust="spacingAndGlyphs" fill="#111" >TSPAN8</text>
<text x="58.00" y="376.08" font-size="4.6" stroke="#111" stroke-width="0.15" font-weight="bold" textLength="18.87" lengthAdjust="spacingAndGlyphs" fill="#111" >DNAJC21</text>
<text x="58.00" y="381.67" font-size="4.6" stroke="#111" stroke-width="0.15" font-weight="bold" textLength="16.56" lengthAdjust="spacingAndGlyphs" fill="#111" >TBXA2R</text>
<text x="58.00" y="387.26" font-size="4.6" stroke="#111" stroke-width="0.15" font-weight="bold" textLength="18.64" lengthAdjust="spacingAndGlyphs" fill="#111" >COL18A1</text>
<text x="58.00" y="392.85" font-size="4.6" stroke="#111" stroke-width="0.15" font-weight="bold" textLength="14.96" lengthAdjust="spacingAndGlyphs" fill="#111" >S100A5</text>
<text x="58.00" y="398.44" font-size="4.6" stroke="#111" stroke-width="0.15" font-weight="bold" textLength="15.64" lengthAdjust="spacingAndGlyphs" fill="#111" >ZBTB37</text>
<text x="58.00" y="404.03" font-size="4.6" stroke="#111" stroke-width="0.15" font-weight="bold" textLength="12.19" lengthAdjust="spacingAndGlyphs" fill="#111" >ITGA3</text>
<text x="58.00" y="409.62" font-size="4.6" stroke="#111" stroke-width="0.15" font-weight="bold" textLength="13.96" lengthAdjust="spacingAndGlyphs" fill="#111" >VAMP2</text>
<text x="58.00" y="415.20" font-size="4.6" stroke="#111" stroke-width="0.15" font-weight="bold" textLength="13.57" lengthAdjust="spacingAndGlyphs" fill="#111" >NR4A1</text>
<text x="58.00" y="420.79" font-size="4.6" stroke="#111" stroke-width="0.15" font-weight="bold" textLength="15.64" lengthAdjust="spacingAndGlyphs" fill="#111" >NFKBIA</text>
<text x="58.00" y="426.38" font-size="4.6" stroke="#111" stroke-width="0.15" font-weight="bold" textLength="13.80" lengthAdjust="spacingAndGlyphs" fill="#111" >ARL4C</text>
<text x="58.00" y="431.97" font-size="4.6" stroke="#111" stroke-width="0.15" font-weight="bold" textLength="11.50" lengthAdjust="spacingAndGlyphs" fill="#111" >AGXT</text>
<text x="58.00" y="437.56" font-size="4.6" stroke="#111" stroke-width="0.15" font-weight="bold" textLength="14.03" lengthAdjust="spacingAndGlyphs" fill="#111" >PNRC1</text>
<text x="58.00" y="443.15" font-size="4.6" stroke="#111" stroke-width="0.15" font-weight="bold" textLength="13.57" lengthAdjust="spacingAndGlyphs" fill="#111" >KCNJ8</text>
<text x="58.00" y="448.74" font-size="4.6" stroke="#111" stroke-width="0.15" font-weight="bold" textLength="13.80" lengthAdjust="spacingAndGlyphs" fill="#111" >FOXB2</text>
<text x="58.00" y="454.32" font-size="4.6" stroke="#111" stroke-width="0.15" font-weight="bold" textLength="14.03" lengthAdjust="spacingAndGlyphs" fill="#111" >RBBP6</text>
<text x="58.00" y="459.91" font-size="4.6" stroke="#111" stroke-width="0.15" font-weight="bold" textLength="13.57" lengthAdjust="spacingAndGlyphs" fill="#111" >ASH1L</text>
<text x="58.00" y="465.50" font-size="4.6" stroke="#111" stroke-width="0.15" font-weight="bold" textLength="13.34" lengthAdjust="spacingAndGlyphs" fill="#111" >CPSF2</text>
<text x="58.00" y="471.09" font-size="4.6" stroke="#111" stroke-width="0.15" font-weight="bold" textLength="13.57" lengthAdjust="spacingAndGlyphs" fill="#111" >ZRSR2</text>
<text x="58.00" y="476.68" font-size="4.6" stroke="#111" stroke-width="0.15" font-weight="bold" textLength="14.49" lengthAdjust="spacingAndGlyphs" fill="#111" >INPPL1</text>
<text x="58.00" y="482.27" font-size="4.6" stroke="#111" stroke-width="0.15" font-weight="bold" textLength="13.42" lengthAdjust="spacingAndGlyphs" fill="#111" >GATA3</text>
<text x="58.00" y="487.86" font-size="4.6" stroke="#111" stroke-width="0.15" font-weight="bold" textLength="15.88" lengthAdjust="spacingAndGlyphs" fill="#111" >CYP2E1</text>
<rect x="108.20" y="293.00" width="10.30" height="6.59" fill="#e60a0a"/>
<rect x="117.50" y="293.00" width="10.30" height="6.59" fill="#ec8a8a"/>
<rect x="126.80" y="293.00" width="10.30" height="6.59" fill="#e60a0a"/>
<rect x="136.10" y="293.00" width="10.30" height="6.59" fill="#1818ee"/>
<rect x="145.40" y="293.00" width="10.30" height="6.59" fill="#1818ee"/>
<rect x="154.70" y="293.00" width="9.30" height="6.59" fill="#3038ee"/>
<rect x="108.20" y="298.59" width="10.30" height="6.59" fill="#e60a0a"/>
<rect x="117.50" y="298.59" width="10.30" height="6.59" fill="#ec8a8a"/>
<rect x="126.80" y="298.59" width="10.30" height="6.59" fill="#f5d0d0"/>
<rect x="136.10" y="298.59" width="10.30" height="6.59" fill="#1818ee"/>
<rect x="145.40" y="298.59" width="10.30" height="6.59" fill="#1818ee"/>
<rect x="154.70" y="298.59" width="9.30" height="6.59" fill="#f6f0f0"/>
<rect x="108.20" y="304.18" width="10.30" height="6.59" fill="#e66262"/>
<rect x="117.50" y="304.18" width="10.30" height="6.59" fill="#e60a0a"/>
<rect x="126.80" y="304.18" width="10.30" height="6.59" fill="#e60a0a"/>
<rect x="136.10" y="304.18" width="10.30" height="6.59" fill="#1818ee"/>
<rect x="145.40" y="304.18" width="10.30" height="6.59" fill="#1818ee"/>
<rect x="154.70" y="304.18" width="9.30" height="6.59" fill="#aab0f4"/>
<rect x="108.20" y="309.77" width="10.30" height="6.59" fill="#e66262"/>
<rect x="117.50" y="309.77" width="10.30" height="6.59" fill="#e60a0a"/>
<rect x="126.80" y="309.77" width="10.30" height="6.59" fill="#ec8a8a"/>
<rect x="136.10" y="309.77" width="10.30" height="6.59" fill="#1818ee"/>
<rect x="145.40" y="309.77" width="10.30" height="6.59" fill="#1818ee"/>
<rect x="154.70" y="309.77" width="9.30" height="6.59" fill="#aab0f4"/>
<rect x="108.20" y="315.37" width="10.30" height="6.59" fill="#e66262"/>
<rect x="117.50" y="315.37" width="10.30" height="6.59" fill="#e60a0a"/>
<rect x="126.80" y="315.37" width="10.30" height="6.59" fill="#e33535"/>
<rect x="136.10" y="315.37" width="10.30" height="6.59" fill="#8c94f2"/>
<rect x="145.40" y="315.37" width="10.30" height="6.59" fill="#8c94f2"/>
<rect x="154.70" y="315.37" width="9.30" height="6.59" fill="#1818ee"/>
<rect x="108.20" y="320.96" width="10.30" height="6.59" fill="#e60a0a"/>
<rect x="117.50" y="320.96" width="10.30" height="6.59" fill="#f2b0b0"/>
<rect x="126.80" y="320.96" width="10.30" height="6.59" fill="#f5d0d0"/>
<rect x="136.10" y="320.96" width="10.30" height="6.59" fill="#1818ee"/>
<rect x="145.40" y="320.96" width="10.30" height="6.59" fill="#1818ee"/>
<rect x="154.70" y="320.96" width="9.30" height="6.59" fill="#f6f0f0"/>
<rect x="108.20" y="326.55" width="10.30" height="6.59" fill="#e60a0a"/>
<rect x="117.50" y="326.55" width="10.30" height="6.59" fill="#ecebf6"/>
<rect x="126.80" y="326.55" width="10.30" height="6.59" fill="#f5d0d0"/>
<rect x="136.10" y="326.55" width="10.30" height="6.59" fill="#6670f0"/>
<rect x="145.40" y="326.55" width="10.30" height="6.59" fill="#3038ee"/>
<rect x="154.70" y="326.55" width="9.30" height="6.59" fill="#6670f0"/>
<rect x="108.20" y="332.14" width="10.30" height="6.59" fill="#e60a0a"/>
<rect x="117.50" y="332.14" width="10.30" height="6.59" fill="#ec8a8a"/>
<rect x="126.80" y="332.14" width="10.30" height="6.59" fill="#e60a0a"/>
<rect x="136.10" y="332.14" width="10.30" height="6.59" fill="#3038ee"/>
<rect x="145.40" y="332.14" width="10.30" height="6.59" fill="#6670f0"/>
<rect x="154.70" y="332.14" width="9.30" height="6.59" fill="#1818ee"/>
<rect x="108.20" y="337.73" width="10.30" height="6.59" fill="#e60a0a"/>
<rect x="117.50" y="337.73" width="10.30" height="6.59" fill="#e33535"/>
<rect x="126.80" y="337.73" width="10.30" height="6.59" fill="#e60a0a"/>
<rect x="136.10" y="337.73" width="10.30" height="6.59" fill="#1818ee"/>
<rect x="145.40" y="337.73" width="10.30" height="6.59" fill="#1818ee"/>
<rect x="154.70" y="337.73" width="9.30" height="6.59" fill="#ecebf6"/>
<rect x="108.20" y="343.32" width="10.30" height="6.59" fill="#e60a0a"/>
<rect x="117.50" y="343.32" width="10.30" height="6.59" fill="#f2b0b0"/>
<rect x="126.80" y="343.32" width="10.30" height="6.59" fill="#e60a0a"/>
<rect x="136.10" y="343.32" width="10.30" height="6.59" fill="#1818ee"/>
<rect x="145.40" y="343.32" width="10.30" height="6.59" fill="#1818ee"/>
<rect x="154.70" y="343.32" width="9.30" height="6.59" fill="#f6f0f0"/>
<rect x="108.20" y="348.91" width="10.30" height="6.59" fill="#e66262"/>
<rect x="117.50" y="348.91" width="10.30" height="6.59" fill="#e66262"/>
<rect x="126.80" y="348.91" width="10.30" height="6.59" fill="#e60a0a"/>
<rect x="136.10" y="348.91" width="10.30" height="6.59" fill="#1818ee"/>
<rect x="145.40" y="348.91" width="10.30" height="6.59" fill="#1818ee"/>
<rect x="154.70" y="348.91" width="9.30" height="6.59" fill="#6670f0"/>
<rect x="108.20" y="354.51" width="10.30" height="6.59" fill="#e66262"/>
<rect x="117.50" y="354.51" width="10.30" height="6.59" fill="#f2b0b0"/>
<rect x="126.80" y="354.51" width="10.30" height="6.59" fill="#e60a0a"/>
<rect x="136.10" y="354.51" width="10.30" height="6.59" fill="#1818ee"/>
<rect x="145.40" y="354.51" width="10.30" height="6.59" fill="#1818ee"/>
<rect x="154.70" y="354.51" width="9.30" height="6.59" fill="#d2d6f6"/>
<rect x="108.20" y="360.10" width="10.30" height="6.59" fill="#e66262"/>
<rect x="117.50" y="360.10" width="10.30" height="6.59" fill="#e60a0a"/>
<rect x="126.80" y="360.10" width="10.30" height="6.59" fill="#e33535"/>
<rect x="136.10" y="360.10" width="10.30" height="6.59" fill="#1818ee"/>
<rect x="145.40" y="360.10" width="10.30" height="6.59" fill="#1818ee"/>
<rect x="154.70" y="360.10" width="9.30" height="6.59" fill="#d2d6f6"/>
<rect x="108.20" y="365.69" width="10.30" height="6.59" fill="#e66262"/>
<rect x="117.50" y="365.69" width="10.30" height="6.59" fill="#e66262"/>
<rect x="126.80" y="365.69" width="10.30" height="6.59" fill="#e33535"/>
<rect x="136.10" y="365.69" width="10.30" height="6.59" fill="#1818ee"/>
<rect x="145.40" y="365.69" width="10.30" height="6.59" fill="#1818ee"/>
<rect x="154.70" y="365.69" width="9.30" height="6.59" fill="#f5d0d0"/>
<rect x="108.20" y="371.28" width="10.30" height="6.59" fill="#f5d0d0"/>
<rect x="117.50" y="371.28" width="10.30" height="6.59" fill="#e60a0a"/>
<rect x="126.80" y="371.28" width="10.30" height="6.59" fill="#ecebf6"/>
<rect x="136.10" y="371.28" width="10.30" height="6.59" fill="#1818ee"/>
<rect x="145.40" y="371.28" width="10.30" height="6.59" fill="#6670f0"/>
<rect x="154.70" y="371.28" width="9.30" height="6.59" fill="#d2d6f6"/>
<rect x="108.20" y="376.87" width="10.30" height="6.59" fill="#ec8a8a"/>
<rect x="117.50" y="376.87" width="10.30" height="6.59" fill="#e60a0a"/>
<rect x="126.80" y="376.87" width="10.30" height="6.59" fill="#e60a0a"/>
<rect x="136.10" y="376.87" width="10.30" height="6.59" fill="#1818ee"/>
<rect x="145.40" y="376.87" width="10.30" height="6.59" fill="#1818ee"/>
<rect x="154.70" y="376.87" width="9.30" height="6.59" fill="#6670f0"/>
<rect x="108.20" y="382.46" width="10.30" height="6.59" fill="#e60a0a"/>
<rect x="117.50" y="382.46" width="10.30" height="6.59" fill="#ec8a8a"/>
<rect x="126.80" y="382.46" width="10.30" height="6.59" fill="#f5d0d0"/>
<rect x="136.10" y="382.46" width="10.30" height="6.59" fill="#1818ee"/>
<rect x="145.40" y="382.46" width="10.30" height="6.59" fill="#1818ee"/>
<rect x="154.70" y="382.46" width="9.30" height="6.59" fill="#f6f0f0"/>
<rect x="108.20" y="388.05" width="10.30" height="6.59" fill="#e33535"/>
<rect x="117.50" y="388.05" width="10.30" height="6.59" fill="#f6f0f0"/>
<rect x="126.80" y="388.05" width="10.30" height="6.59" fill="#f2b0b0"/>
<rect x="136.10" y="388.05" width="10.30" height="6.59" fill="#e33535"/>
<rect x="145.40" y="388.05" width="10.30" height="6.59" fill="#6670f0"/>
<rect x="154.70" y="388.05" width="9.30" height="6.59" fill="#1818ee"/>
<rect x="108.20" y="393.65" width="10.30" height="6.59" fill="#3038ee"/>
<rect x="117.50" y="393.65" width="10.30" height="6.59" fill="#e66262"/>
<rect x="126.80" y="393.65" width="10.30" height="6.59" fill="#e60a0a"/>
<rect x="136.10" y="393.65" width="10.30" height="6.59" fill="#3038ee"/>
<rect x="145.40" y="393.65" width="10.30" height="6.59" fill="#3038ee"/>
<rect x="154.70" y="393.65" width="9.30" height="6.59" fill="#f5d0d0"/>
<rect x="108.20" y="399.24" width="10.30" height="6.59" fill="#d2d6f6"/>
<rect x="117.50" y="399.24" width="10.30" height="6.59" fill="#ec8a8a"/>
<rect x="126.80" y="399.24" width="10.30" height="6.59" fill="#ec8a8a"/>
<rect x="136.10" y="399.24" width="10.30" height="6.59" fill="#6670f0"/>
<rect x="145.40" y="399.24" width="10.30" height="6.59" fill="#1818ee"/>
<rect x="154.70" y="399.24" width="9.30" height="6.59" fill="#e60a0a"/>
<rect x="108.20" y="404.83" width="10.30" height="6.59" fill="#f6f0f0"/>
<rect x="117.50" y="404.83" width="10.30" height="6.59" fill="#e60a0a"/>
<rect x="126.80" y="404.83" width="10.30" height="6.59" fill="#f2b0b0"/>
<rect x="136.10" y="404.83" width="10.30" height="6.59" fill="#f5d0d0"/>
<rect x="145.40" y="404.83" width="10.30" height="6.59" fill="#1818ee"/>
<rect x="154.70" y="404.83" width="9.30" height="6.59" fill="#f5d0d0"/>
<rect x="108.20" y="410.42" width="10.30" height="6.59" fill="#f5d0d0"/>
<rect x="117.50" y="410.42" width="10.30" height="6.59" fill="#e66262"/>
<rect x="126.80" y="410.42" width="10.30" height="6.59" fill="#e60a0a"/>
<rect x="136.10" y="410.42" width="10.30" height="6.59" fill="#6670f0"/>
<rect x="145.40" y="410.42" width="10.30" height="6.59" fill="#6670f0"/>
<rect x="154.70" y="410.42" width="9.30" height="6.59" fill="#1818ee"/>
<rect x="108.20" y="416.01" width="10.30" height="6.59" fill="#e60a0a"/>
<rect x="117.50" y="416.01" width="10.30" height="6.59" fill="#f5d0d0"/>
<rect x="126.80" y="416.01" width="10.30" height="6.59" fill="#aab0f4"/>
<rect x="136.10" y="416.01" width="10.30" height="6.59" fill="#aab0f4"/>
<rect x="145.40" y="416.01" width="10.30" height="6.59" fill="#1818ee"/>
<rect x="154.70" y="416.01" width="9.30" height="6.59" fill="#aab0f4"/>
<rect x="108.20" y="421.60" width="10.30" height="6.59" fill="#e60a0a"/>
<rect x="117.50" y="421.60" width="10.30" height="6.59" fill="#e60a0a"/>
<rect x="126.80" y="421.60" width="10.30" height="6.59" fill="#f2b0b0"/>
<rect x="136.10" y="421.60" width="10.30" height="6.59" fill="#1818ee"/>
<rect x="145.40" y="421.60" width="10.30" height="6.59" fill="#6670f0"/>
<rect x="154.70" y="421.60" width="9.30" height="6.59" fill="#aab0f4"/>
<rect x="108.20" y="427.19" width="10.30" height="6.59" fill="#e66262"/>
<rect x="117.50" y="427.19" width="10.30" height="6.59" fill="#e60a0a"/>
<rect x="126.80" y="427.19" width="10.30" height="6.59" fill="#aab0f4"/>
<rect x="136.10" y="427.19" width="10.30" height="6.59" fill="#f6f0f0"/>
<rect x="145.40" y="427.19" width="10.30" height="6.59" fill="#aab0f4"/>
<rect x="154.70" y="427.19" width="9.30" height="6.59" fill="#3038ee"/>
<rect x="108.20" y="432.79" width="10.30" height="6.59" fill="#ec8a8a"/>
<rect x="117.50" y="432.79" width="10.30" height="6.59" fill="#aab0f4"/>
<rect x="126.80" y="432.79" width="10.30" height="6.59" fill="#e60a0a"/>
<rect x="136.10" y="432.79" width="10.30" height="6.59" fill="#f6f0f0"/>
<rect x="145.40" y="432.79" width="10.30" height="6.59" fill="#1818ee"/>
<rect x="154.70" y="432.79" width="9.30" height="6.59" fill="#1818ee"/>
<rect x="108.20" y="438.38" width="10.30" height="6.59" fill="#e60a0a"/>
<rect x="117.50" y="438.38" width="10.30" height="6.59" fill="#aab0f4"/>
<rect x="126.80" y="438.38" width="10.30" height="6.59" fill="#f2b0b0"/>
<rect x="136.10" y="438.38" width="10.30" height="6.59" fill="#1818ee"/>
<rect x="145.40" y="438.38" width="10.30" height="6.59" fill="#6670f0"/>
<rect x="154.70" y="438.38" width="9.30" height="6.59" fill="#ecebf6"/>
<rect x="108.20" y="443.97" width="10.30" height="6.59" fill="#f2b0b0"/>
<rect x="117.50" y="443.97" width="10.30" height="6.59" fill="#e66262"/>
<rect x="126.80" y="443.97" width="10.30" height="6.59" fill="#f6f0f0"/>
<rect x="136.10" y="443.97" width="10.30" height="6.59" fill="#8c94f2"/>
<rect x="145.40" y="443.97" width="10.30" height="6.59" fill="#aab0f4"/>
<rect x="154.70" y="443.97" width="9.30" height="6.59" fill="#1818ee"/>
<rect x="108.20" y="449.56" width="10.30" height="6.59" fill="#ec8a8a"/>
<rect x="117.50" y="449.56" width="10.30" height="6.59" fill="#e66262"/>
<rect x="126.80" y="449.56" width="10.30" height="6.59" fill="#e60a0a"/>
<rect x="136.10" y="449.56" width="10.30" height="6.59" fill="#1818ee"/>
<rect x="145.40" y="449.56" width="10.30" height="6.59" fill="#1818ee"/>
<rect x="154.70" y="449.56" width="9.30" height="6.59" fill="#f5d0d0"/>
<rect x="108.20" y="455.15" width="10.30" height="6.59" fill="#f2b0b0"/>
<rect x="117.50" y="455.15" width="10.30" height="6.59" fill="#f6f0f0"/>
<rect x="126.80" y="455.15" width="10.30" height="6.59" fill="#e60a0a"/>
<rect x="136.10" y="455.15" width="10.30" height="6.59" fill="#aab0f4"/>
<rect x="145.40" y="455.15" width="10.30" height="6.59" fill="#aab0f4"/>
<rect x="154.70" y="455.15" width="9.30" height="6.59" fill="#1818ee"/>
<rect x="108.20" y="460.74" width="10.30" height="6.59" fill="#f5d0d0"/>
<rect x="117.50" y="460.74" width="10.30" height="6.59" fill="#e66262"/>
<rect x="126.80" y="460.74" width="10.30" height="6.59" fill="#e60a0a"/>
<rect x="136.10" y="460.74" width="10.30" height="6.59" fill="#f5d0d0"/>
<rect x="145.40" y="460.74" width="10.30" height="6.59" fill="#1818ee"/>
<rect x="154.70" y="460.74" width="9.30" height="6.59" fill="#f6f0f0"/>
<rect x="108.20" y="466.33" width="10.30" height="6.59" fill="#f6f0f0"/>
<rect x="117.50" y="466.33" width="10.30" height="6.59" fill="#e60a0a"/>
<rect x="126.80" y="466.33" width="10.30" height="6.59" fill="#8c94f2"/>
<rect x="136.10" y="466.33" width="10.30" height="6.59" fill="#8c94f2"/>
<rect x="145.40" y="466.33" width="10.30" height="6.59" fill="#e33535"/>
<rect x="154.70" y="466.33" width="9.30" height="6.59" fill="#1818ee"/>
<rect x="108.20" y="471.93" width="10.30" height="6.59" fill="#e60a0a"/>
<rect x="117.50" y="471.93" width="10.30" height="6.59" fill="#e60a0a"/>
<rect x="126.80" y="471.93" width="10.30" height="6.59" fill="#d2d6f6"/>
<rect x="136.10" y="471.93" width="10.30" height="6.59" fill="#3038ee"/>
<rect x="145.40" y="471.93" width="10.30" height="6.59" fill="#f5d0d0"/>
<rect x="154.70" y="471.93" width="9.30" height="6.59" fill="#1818ee"/>
<rect x="108.20" y="477.52" width="10.30" height="6.59" fill="#f2b0b0"/>
<rect x="117.50" y="477.52" width="10.30" height="6.59" fill="#e60a0a"/>
<rect x="126.80" y="477.52" width="10.30" height="6.59" fill="#f5d0d0"/>
<rect x="136.10" y="477.52" width="10.30" height="6.59" fill="#6670f0"/>
<rect x="145.40" y="477.52" width="10.30" height="6.59" fill="#d2d6f6"/>
<rect x="154.70" y="477.52" width="9.30" height="6.59" fill="#1818ee"/>
<rect x="108.20" y="483.11" width="10.30" height="5.59" fill="#3038ee"/>
<rect x="117.50" y="483.11" width="10.30" height="5.59" fill="#e66262"/>
<rect x="126.80" y="483.11" width="10.30" height="5.59" fill="#e60a0a"/>
<rect x="136.10" y="483.11" width="10.30" height="5.59" fill="#8c94f2"/>
<rect x="145.40" y="483.11" width="10.30" height="5.59" fill="#f6f0f0"/>
<rect x="154.70" y="483.11" width="9.30" height="5.59" fill="#1818ee"/>
<text x="165.40" y="297.85" font-size="4.6" stroke="#111" stroke-width="0.15" font-weight="bold" textLength="9.43" lengthAdjust="spacingAndGlyphs" fill="#111" >GEM</text>
<text x="165.40" y="303.44" font-size="4.6" stroke="#111" stroke-width="0.15" font-weight="bold" textLength="16.03" lengthAdjust="spacingAndGlyphs" fill="#111" >TSPAN8</text>
<text x="165.40" y="309.03" font-size="4.6" stroke="#111" stroke-width="0.15" font-weight="bold" textLength="37.26" lengthAdjust="spacingAndGlyphs" fill="#111" >CTLA2A/// CTLA2B</text>
<text x="165.40" y="314.62" font-size="4.6" stroke="#111" stroke-width="0.15" font-weight="bold" textLength="8.28" lengthAdjust="spacingAndGlyphs" fill="#111" >JUN</text>
<text x="165.40" y="320.21" font-size="4.6" stroke="#111" stroke-width="0.15" font-weight="bold" textLength="13.80" lengthAdjust="spacingAndGlyphs" fill="#111" >SASH1</text>
<text x="165.40" y="325.80" font-size="4.6" stroke="#111" stroke-width="0.15" font-weight="bold" textLength="11.27" lengthAdjust="spacingAndGlyphs" fill="#111" >EMP1</text>
<text x="165.40" y="331.39" font-size="4.6" stroke="#111" stroke-width="0.15" font-weight="bold" textLength="10.35" lengthAdjust="spacingAndGlyphs" fill="#111" >ETV1</text>
<text x="165.40" y="336.99" font-size="4.6" stroke="#111" stroke-width="0.15" font-weight="bold" textLength="14.49" lengthAdjust="spacingAndGlyphs" fill="#111" >SMAD7</text>
<text x="165.40" y="342.58" font-size="4.6" stroke="#111" stroke-width="0.15" font-weight="bold" textLength="18.33" lengthAdjust="spacingAndGlyphs" fill="#111" >TSPAN13</text>
<text x="165.40" y="348.17" font-size="4.6" stroke="#111" stroke-width="0.15" font-weight="bold" textLength="14.49" lengthAdjust="spacingAndGlyphs" fill="#111" >PRKCE</text>
<text x="165.40" y="353.76" font-size="4.6" stroke="#111" stroke-width="0.15" font-weight="bold" textLength="10.81" lengthAdjust="spacingAndGlyphs" fill="#111" >THA1</text>
<text x="165.40" y="359.35" font-size="4.6" stroke="#111" stroke-width="0.15" font-weight="bold" textLength="11.96" lengthAdjust="spacingAndGlyphs" fill="#111" >IFIT81</text>
<text x="165.40" y="364.94" font-size="4.6" stroke="#111" stroke-width="0.15" font-weight="bold" textLength="9.43" lengthAdjust="spacingAndGlyphs" fill="#111" >SKIL</text>
<text x="165.40" y="370.53" font-size="4.6" stroke="#111" stroke-width="0.15" font-weight="bold" textLength="16.56" lengthAdjust="spacingAndGlyphs" fill="#111" >TBXA2R</text>
<text x="165.40" y="376.13" font-size="4.6" stroke="#111" stroke-width="0.15" font-weight="bold" textLength="14.72" lengthAdjust="spacingAndGlyphs" fill="#111" >ROBO3</text>
<text x="165.40" y="381.72" font-size="4.6" stroke="#111" stroke-width="0.15" font-weight="bold" textLength="13.80" lengthAdjust="spacingAndGlyphs" fill="#111" >ARL4C</text>
<text x="165.40" y="387.31" font-size="4.6" stroke="#111" stroke-width="0.15" font-weight="bold" textLength="18.87" lengthAdjust="spacingAndGlyphs" fill="#111" >DNAJC21</text>
<text x="165.40" y="392.90" font-size="4.6" stroke="#111" stroke-width="0.15" font-weight="bold" textLength="15.64" lengthAdjust="spacingAndGlyphs" fill="#111" >ZBTB37</text>
<text x="165.40" y="398.49" font-size="4.6" stroke="#111" stroke-width="0.15" font-weight="bold" textLength="13.80" lengthAdjust="spacingAndGlyphs" fill="#111" >VLDLR</text>
<text x="165.40" y="404.08" font-size="4.6" stroke="#111" stroke-width="0.15" font-weight="bold" textLength="13.42" lengthAdjust="spacingAndGlyphs" fill="#111" >GATA3</text>
<text x="165.40" y="409.67" font-size="4.6" stroke="#111" stroke-width="0.15" font-weight="bold" textLength="11.27" lengthAdjust="spacingAndGlyphs" fill="#111" >EGR1</text>
<text x="165.40" y="415.27" font-size="4.6" stroke="#111" stroke-width="0.15" font-weight="bold" textLength="19.55" lengthAdjust="spacingAndGlyphs" fill="#111" >LAPTM4B</text>
<text x="165.40" y="420.86" font-size="4.6" stroke="#111" stroke-width="0.15" font-weight="bold" textLength="17.25" lengthAdjust="spacingAndGlyphs" fill="#111" >CHRNA5</text>
<text x="165.40" y="426.45" font-size="4.6" stroke="#111" stroke-width="0.15" font-weight="bold" textLength="13.96" lengthAdjust="spacingAndGlyphs" fill="#111" >VAMP2</text>
<text x="165.40" y="432.04" font-size="4.6" stroke="#111" stroke-width="0.15" font-weight="bold" textLength="15.65" lengthAdjust="spacingAndGlyphs" fill="#111" >PEX11A</text>
<text x="165.40" y="437.63" font-size="4.6" stroke="#111" stroke-width="0.15" font-weight="bold" textLength="11.96" lengthAdjust="spacingAndGlyphs" fill="#111" >DDIT4</text>
<text x="165.40" y="443.22" font-size="4.6" stroke="#111" stroke-width="0.15" font-weight="bold" textLength="17.72" lengthAdjust="spacingAndGlyphs" fill="#111" >BCL2L11</text>
<text x="165.40" y="448.81" font-size="4.6" stroke="#111" stroke-width="0.15" font-weight="bold" textLength="14.04" lengthAdjust="spacingAndGlyphs" fill="#111" >MYO10</text>
<text x="165.40" y="454.41" font-size="4.6" stroke="#111" stroke-width="0.15" font-weight="bold" textLength="15.88" lengthAdjust="spacingAndGlyphs" fill="#111" >CYP2E1</text>
<text x="165.40" y="460.00" font-size="4.6" stroke="#111" stroke-width="0.15" font-weight="bold" textLength="13.57" lengthAdjust="spacingAndGlyphs" fill="#111" >ASH1L</text>
<text x="165.40" y="465.59" font-size="4.6" stroke="#111" stroke-width="0.15" font-weight="bold" textLength="12.19" lengthAdjust="spacingAndGlyphs" fill="#111" >ITGA3</text>
<text x="165.40" y="471.18" font-size="4.6" stroke="#111" stroke-width="0.15" font-weight="bold" textLength="10.12" lengthAdjust="spacingAndGlyphs" fill="#111" >IFIH1</text>
<text x="165.40" y="476.77" font-size="4.6" stroke="#111" stroke-width="0.15" font-weight="bold" textLength="13.57" lengthAdjust="spacingAndGlyphs" fill="#111" >ZRSR2</text>
<text x="165.40" y="482.36" font-size="4.6" stroke="#111" stroke-width="0.15" font-weight="bold" textLength="17.02" lengthAdjust="spacingAndGlyphs" fill="#111" >ZMYND8</text>
<text x="165.40" y="487.95" font-size="4.6" stroke="#111" stroke-width="0.15" font-weight="bold" textLength="20.47" lengthAdjust="spacingAndGlyphs" fill="#111" >SMARCA2</text>
<rect x="212.00" y="296.00" width="10.43" height="6.56" fill="#e33535"/>
<rect x="221.43" y="296.00" width="10.43" height="6.56" fill="#e60a0a"/>
<rect x="230.87" y="296.00" width="10.43" height="6.56" fill="#e66262"/>
<rect x="240.30" y="296.00" width="10.43" height="6.56" fill="#1818ee"/>
<rect x="249.73" y="296.00" width="10.43" height="6.56" fill="#1818ee"/>
<rect x="259.17" y="296.00" width="9.43" height="6.56" fill="#8c94f2"/>
<rect x="212.00" y="301.56" width="10.43" height="6.56" fill="#f5d0d0"/>
<rect x="221.43" y="301.56" width="10.43" height="6.56" fill="#e60a0a"/>
<rect x="230.87" y="301.56" width="10.43" height="6.56" fill="#e60a0a"/>
<rect x="240.30" y="301.56" width="10.43" height="6.56" fill="#3038ee"/>
<rect x="249.73" y="301.56" width="10.43" height="6.56" fill="#1818ee"/>
<rect x="259.17" y="301.56" width="9.43" height="6.56" fill="#3038ee"/>
<rect x="212.00" y="307.12" width="10.43" height="6.56" fill="#f5d0d0"/>
<rect x="221.43" y="307.12" width="10.43" height="6.56" fill="#e60a0a"/>
<rect x="230.87" y="307.12" width="10.43" height="6.56" fill="#e66262"/>
<rect x="240.30" y="307.12" width="10.43" height="6.56" fill="#3038ee"/>
<rect x="249.73" y="307.12" width="10.43" height="6.56" fill="#1818ee"/>
<rect x="259.17" y="307.12" width="9.43" height="6.56" fill="#d2d6f6"/>
<rect x="212.00" y="312.68" width="10.43" height="6.56" fill="#aab0f4"/>
<rect x="221.43" y="312.68" width="10.43" height="6.56" fill="#e60a0a"/>
<rect x="230.87" y="312.68" width="10.43" height="6.56" fill="#e60a0a"/>
<rect x="240.30" y="312.68" width="10.43" height="6.56" fill="#3038ee"/>
<rect x="249.73" y="312.68" width="10.43" height="6.56" fill="#1818ee"/>
<rect x="259.17" y="312.68" width="9.43" height="6.56" fill="#8c94f2"/>
<rect x="212.00" y="318.24" width="10.43" height="6.56" fill="#e66262"/>
<rect x="221.43" y="318.24" width="10.43" height="6.56" fill="#e60a0a"/>
<rect x="230.87" y="318.24" width="10.43" height="6.56" fill="#e66262"/>
<rect x="240.30" y="318.24" width="10.43" height="6.56" fill="#d2d6f6"/>
<rect x="249.73" y="318.24" width="10.43" height="6.56" fill="#1818ee"/>
<rect x="259.17" y="318.24" width="9.43" height="6.56" fill="#1818ee"/>
<rect x="212.00" y="323.80" width="10.43" height="6.56" fill="#d2d6f6"/>
<rect x="221.43" y="323.80" width="10.43" height="6.56" fill="#3038ee"/>
<rect x="230.87" y="323.80" width="10.43" height="6.56" fill="#e60a0a"/>
<rect x="240.30" y="323.80" width="10.43" height="6.56" fill="#8c94f2"/>
<rect x="249.73" y="323.80" width="10.43" height="6.56" fill="#8c94f2"/>
<rect x="259.17" y="323.80" width="9.43" height="6.56" fill="#ecebf6"/>
<rect x="212.00" y="329.36" width="10.43" height="6.56" fill="#f5d0d0"/>
<rect x="221.43" y="329.36" width="10.43" height="6.56" fill="#e60a0a"/>
<rect x="230.87" y="329.36" width="10.43" height="6.56" fill="#e60a0a"/>
<rect x="240.30" y="329.36" width="10.43" height="6.56" fill="#3038ee"/>
<rect x="249.73" y="329.36" width="10.43" height="6.56" fill="#aab0f4"/>
<rect x="259.17" y="329.36" width="9.43" height="6.56" fill="#1818ee"/>
<rect x="212.00" y="334.92" width="10.43" height="6.56" fill="#ec8a8a"/>
<rect x="221.43" y="334.92" width="10.43" height="6.56" fill="#f6f0f0"/>
<rect x="230.87" y="334.92" width="10.43" height="6.56" fill="#e60a0a"/>
<rect x="240.30" y="334.92" width="10.43" height="6.56" fill="#1818ee"/>
<rect x="249.73" y="334.92" width="10.43" height="6.56" fill="#1818ee"/>
<rect x="259.17" y="334.92" width="9.43" height="6.56" fill="#e66262"/>
<rect x="212.00" y="340.48" width="10.43" height="6.56" fill="#e60a0a"/>
<rect x="221.43" y="340.48" width="10.43" height="6.56" fill="#e60a0a"/>
<rect x="230.87" y="340.48" width="10.43" height="6.56" fill="#d2d6f6"/>
<rect x="240.30" y="340.48" width="10.43" height="6.56" fill="#1818ee"/>
<rect x="249.73" y="340.48" width="10.43" height="6.56" fill="#1818ee"/>
<rect x="259.17" y="340.48" width="9.43" height="6.56" fill="#f2b0b0"/>
<rect x="212.00" y="346.04" width="10.43" height="6.56" fill="#f5d0d0"/>
<rect x="221.43" y="346.04" width="10.43" height="6.56" fill="#e60a0a"/>
<rect x="230.87" y="346.04" width="10.43" height="6.56" fill="#f2b0b0"/>
<rect x="240.30" y="346.04" width="10.43" height="6.56" fill="#6670f0"/>
<rect x="249.73" y="346.04" width="10.43" height="6.56" fill="#1818ee"/>
<rect x="259.17" y="346.04" width="9.43" height="6.56" fill="#1818ee"/>
<rect x="212.00" y="351.60" width="10.43" height="6.56" fill="#e60a0a"/>
<rect x="221.43" y="351.60" width="10.43" height="6.56" fill="#f2b0b0"/>
<rect x="230.87" y="351.60" width="10.43" height="6.56" fill="#f2b0b0"/>
<rect x="240.30" y="351.60" width="10.43" height="6.56" fill="#1818ee"/>
<rect x="249.73" y="351.60" width="10.43" height="6.56" fill="#1818ee"/>
<rect x="259.17" y="351.60" width="9.43" height="6.56" fill="#6670f0"/>
<rect x="212.00" y="357.16" width="10.43" height="6.56" fill="#e60a0a"/>
<rect x="221.43" y="357.16" width="10.43" height="6.56" fill="#f2b0b0"/>
<rect x="230.87" y="357.16" width="10.43" height="6.56" fill="#f6f0f0"/>
<rect x="240.30" y="357.16" width="10.43" height="6.56" fill="#1818ee"/>
<rect x="249.73" y="357.16" width="10.43" height="6.56" fill="#f6f0f0"/>
<rect x="259.17" y="357.16" width="9.43" height="6.56" fill="#1818ee"/>
<rect x="212.00" y="362.72" width="10.43" height="6.56" fill="#f5d0d0"/>
<rect x="221.43" y="362.72" width="10.43" height="6.56" fill="#e60a0a"/>
<rect x="230.87" y="362.72" width="10.43" height="6.56" fill="#f5d0d0"/>
<rect x="240.30" y="362.72" width="10.43" height="6.56" fill="#6670f0"/>
<rect x="249.73" y="362.72" width="10.43" height="6.56" fill="#f6f0f0"/>
<rect x="259.17" y="362.72" width="9.43" height="6.56" fill="#1818ee"/>
<rect x="212.00" y="368.28" width="10.43" height="6.56" fill="#e60a0a"/>
<rect x="221.43" y="368.28" width="10.43" height="6.56" fill="#e66262"/>
<rect x="230.87" y="368.28" width="10.43" height="6.56" fill="#f5d0d0"/>
<rect x="240.30" y="368.28" width="10.43" height="6.56" fill="#f2b0b0"/>
<rect x="249.73" y="368.28" width="10.43" height="6.56" fill="#1818ee"/>
<rect x="259.17" y="368.28" width="9.43" height="6.56" fill="#1818ee"/>
<rect x="212.00" y="373.84" width="10.43" height="6.56" fill="#e66262"/>
<rect x="221.43" y="373.84" width="10.43" height="6.56" fill="#e60a0a"/>
<rect x="230.87" y="373.84" width="10.43" height="6.56" fill="#e60a0a"/>
<rect x="240.30" y="373.84" width="10.43" height="6.56" fill="#1818ee"/>
<rect x="249.73" y="373.84" width="10.43" height="6.56" fill="#1818ee"/>
<rect x="259.17" y="373.84" width="9.43" height="6.56" fill="#6670f0"/>
<rect x="212.00" y="379.40" width="10.43" height="6.56" fill="#e60a0a"/>
<rect x="221.43" y="379.40" width="10.43" height="6.56" fill="#f2b0b0"/>
<rect x="230.87" y="379.40" width="10.43" height="6.56" fill="#f6f0f0"/>
<rect x="240.30" y="379.40" width="10.43" height="6.56" fill="#1818ee"/>
<rect x="249.73" y="379.40" width="10.43" height="6.56" fill="#1818ee"/>
<rect x="259.17" y="379.40" width="9.43" height="6.56" fill="#f6f0f0"/>
<rect x="212.00" y="384.96" width="10.43" height="6.56" fill="#8c94f2"/>
<rect x="221.43" y="384.96" width="10.43" height="6.56" fill="#6670f0"/>
<rect x="230.87" y="384.96" width="10.43" height="6.56" fill="#e60a0a"/>
<rect x="240.30" y="384.96" width="10.43" height="6.56" fill="#aab0f4"/>
<rect x="249.73" y="384.96" width="10.43" height="6.56" fill="#aab0f4"/>
<rect x="259.17" y="384.96" width="9.43" height="6.56" fill="#d2d6f6"/>
<rect x="212.00" y="390.52" width="10.43" height="6.56" fill="#e60a0a"/>
<rect x="221.43" y="390.52" width="10.43" height="6.56" fill="#f6f0f0"/>
<rect x="230.87" y="390.52" width="10.43" height="6.56" fill="#e60a0a"/>
<rect x="240.30" y="390.52" width="10.43" height="6.56" fill="#6670f0"/>
<rect x="249.73" y="390.52" width="10.43" height="6.56" fill="#1818ee"/>
<rect x="259.17" y="390.52" width="9.43" height="6.56" fill="#aab0f4"/>
<rect x="212.00" y="396.08" width="10.43" height="6.56" fill="#e33535"/>
<rect x="221.43" y="396.08" width="10.43" height="6.56" fill="#e66262"/>
<rect x="230.87" y="396.08" width="10.43" height="6.56" fill="#e60a0a"/>
<rect x="240.30" y="396.08" width="10.43" height="6.56" fill="#1818ee"/>
<rect x="249.73" y="396.08" width="10.43" height="6.56" fill="#1818ee"/>
<rect x="259.17" y="396.08" width="9.43" height="6.56" fill="#f5d0d0"/>
<rect x="212.00" y="401.64" width="10.43" height="6.56" fill="#f2b0b0"/>
<rect x="221.43" y="401.64" width="10.43" height="6.56" fill="#e60a0a"/>
<rect x="230.87" y="401.64" width="10.43" height="6.56" fill="#e60a0a"/>
<rect x="240.30" y="401.64" width="10.43" height="6.56" fill="#1818ee"/>
<rect x="249.73" y="401.64" width="10.43" height="6.56" fill="#aab0f4"/>
<rect x="259.17" y="401.64" width="9.43" height="6.56" fill="#1818ee"/>
<rect x="212.00" y="407.20" width="10.43" height="6.56" fill="#3038ee"/>
<rect x="221.43" y="407.20" width="10.43" height="6.56" fill="#e66262"/>
<rect x="230.87" y="407.20" width="10.43" height="6.56" fill="#e60a0a"/>
<rect x="240.30" y="407.20" width="10.43" height="6.56" fill="#aab0f4"/>
<rect x="249.73" y="407.20" width="10.43" height="6.56" fill="#f5d0d0"/>
<rect x="259.17" y="407.20" width="9.43" height="6.56" fill="#1818ee"/>
<rect x="212.00" y="412.76" width="10.43" height="6.56" fill="#e66262"/>
<rect x="221.43" y="412.76" width="10.43" height="6.56" fill="#ecebf6"/>
<rect x="230.87" y="412.76" width="10.43" height="6.56" fill="#e60a0a"/>
<rect x="240.30" y="412.76" width="10.43" height="6.56" fill="#8c94f2"/>
<rect x="249.73" y="412.76" width="10.43" height="6.56" fill="#aab0f4"/>
<rect x="259.17" y="412.76" width="9.43" height="6.56" fill="#1818ee"/>
<rect x="212.00" y="418.32" width="10.43" height="6.56" fill="#f2b0b0"/>
<rect x="221.43" y="418.32" width="10.43" height="6.56" fill="#e66262"/>
<rect x="230.87" y="418.32" width="10.43" height="6.56" fill="#ec8a8a"/>
<rect x="240.30" y="418.32" width="10.43" height="6.56" fill="#3038ee"/>
<rect x="249.73" y="418.32" width="10.43" height="6.56" fill="#1818ee"/>
<rect x="259.17" y="418.32" width="9.43" height="6.56" fill="#e33535"/>
<rect x="212.00" y="423.88" width="10.43" height="6.56" fill="#e60a0a"/>
<rect x="221.43" y="423.88" width="10.43" height="6.56" fill="#f6f0f0"/>
<rect x="230.87" y="423.88" width="10.43" height="6.56" fill="#e60a0a"/>
<rect x="240.30" y="423.88" width="10.43" height="6.56" fill="#8c94f2"/>
<rect x="249.73" y="423.88" width="10.43" height="6.56" fill="#d2d6f6"/>
<rect x="259.17" y="423.88" width="9.43" height="6.56" fill="#1818ee"/>
<rect x="212.00" y="429.44" width="10.43" height="6.56" fill="#aab0f4"/>
<rect x="221.43" y="429.44" width="10.43" height="6.56" fill="#ec8a8a"/>
<rect x="230.87" y="429.44" width="10.43" height="6.56" fill="#e60a0a"/>
<rect x="240.30" y="429.44" width="10.43" height="6.56" fill="#1818ee"/>
<rect x="249.73" y="429.44" width="10.43" height="6.56" fill="#6670f0"/>
<rect x="259.17" y="429.44" width="9.43" height="6.56" fill="#f6f0f0"/>
<rect x="212.00" y="435.00" width="10.43" height="6.56" fill="#e60a0a"/>
<rect x="221.43" y="435.00" width="10.43" height="6.56" fill="#f5d0d0"/>
<rect x="230.87" y="435.00" width="10.43" height="6.56" fill="#f2b0b0"/>
<rect x="240.30" y="435.00" width="10.43" height="6.56" fill="#1818ee"/>
<rect x="249.73" y="435.00" width="10.43" height="6.56" fill="#f2b0b0"/>
<rect x="259.17" y="435.00" width="9.43" height="6.56" fill="#6670f0"/>
<rect x="212.00" y="440.56" width="10.43" height="6.56" fill="#e60a0a"/>
<rect x="221.43" y="440.56" width="10.43" height="6.56" fill="#e33535"/>
<rect x="230.87" y="440.56" width="10.43" height="6.56" fill="#f6f0f0"/>
<rect x="240.30" y="440.56" width="10.43" height="6.56" fill="#1818ee"/>
<rect x="249.73" y="440.56" width="10.43" height="6.56" fill="#aab0f4"/>
<rect x="259.17" y="440.56" width="9.43" height="6.56" fill="#f6f0f0"/>
<rect x="212.00" y="446.12" width="10.43" height="6.56" fill="#e33535"/>
<rect x="221.43" y="446.12" width="10.43" height="6.56" fill="#f6f0f0"/>
<rect x="230.87" y="446.12" width="10.43" height="6.56" fill="#e60a0a"/>
<rect x="240.30" y="446.12" width="10.43" height="6.56" fill="#1818ee"/>
<rect x="249.73" y="446.12" width="10.43" height="6.56" fill="#1818ee"/>
<rect x="259.17" y="446.12" width="9.43" height="6.56" fill="#f6f0f0"/>
<rect x="212.00" y="451.68" width="10.43" height="6.56" fill="#aab0f4"/>
<rect x="221.43" y="451.68" width="10.43" height="6.56" fill="#aab0f4"/>
<rect x="230.87" y="451.68" width="10.43" height="6.56" fill="#e60a0a"/>
<rect x="240.30" y="451.68" width="10.43" height="6.56" fill="#6670f0"/>
<rect x="249.73" y="451.68" width="10.43" height="6.56" fill="#3038ee"/>
<rect x="259.17" y="451.68" width="9.43" height="6.56" fill="#d2d6f6"/>
<rect x="212.00" y="457.24" width="10.43" height="6.56" fill="#f6f0f0"/>
<rect x="221.43" y="457.24" width="10.43" height="6.56" fill="#f2b0b0"/>
<rect x="230.87" y="457.24" width="10.43" height="6.56" fill="#e33535"/>
<rect x="240.30" y="457.24" width="10.43" height="6.56" fill="#f5d0d0"/>
<rect x="249.73" y="457.24" width="10.43" height="6.56" fill="#f2b0b0"/>
<rect x="259.17" y="457.24" width="9.43" height="6.56" fill="#1818ee"/>
<rect x="212.00" y="462.80" width="10.43" height="6.56" fill="#3038ee"/>
<rect x="221.43" y="462.80" width="10.43" height="6.56" fill="#e60a0a"/>
<rect x="230.87" y="462.80" width="10.43" height="6.56" fill="#e60a0a"/>
<rect x="240.30" y="462.80" width="10.43" height="6.56" fill="#f6f0f0"/>
<rect x="249.73" y="462.80" width="10.43" height="6.56" fill="#f2b0b0"/>
<rect x="259.17" y="462.80" width="9.43" height="6.56" fill="#1818ee"/>
<rect x="212.00" y="468.36" width="10.43" height="6.56" fill="#f5d0d0"/>
<rect x="221.43" y="468.36" width="10.43" height="6.56" fill="#e60a0a"/>
<rect x="230.87" y="468.36" width="10.43" height="6.56" fill="#ec8a8a"/>
<rect x="240.30" y="468.36" width="10.43" height="6.56" fill="#6670f0"/>
<rect x="249.73" y="468.36" width="10.43" height="6.56" fill="#f6f0f0"/>
<rect x="259.17" y="468.36" width="9.43" height="6.56" fill="#1818ee"/>
<rect x="212.00" y="473.92" width="10.43" height="6.56" fill="#ec8a8a"/>
<rect x="221.43" y="473.92" width="10.43" height="6.56" fill="#f2b0b0"/>
<rect x="230.87" y="473.92" width="10.43" height="6.56" fill="#e60a0a"/>
<rect x="240.30" y="473.92" width="10.43" height="6.56" fill="#1818ee"/>
<rect x="249.73" y="473.92" width="10.43" height="6.56" fill="#1818ee"/>
<rect x="259.17" y="473.92" width="9.43" height="6.56" fill="#f6f0f0"/>
<rect x="212.00" y="479.48" width="10.43" height="6.56" fill="#e60a0a"/>
<rect x="221.43" y="479.48" width="10.43" height="6.56" fill="#3038ee"/>
<rect x="230.87" y="479.48" width="10.43" height="6.56" fill="#e60a0a"/>
<rect x="240.30" y="479.48" width="10.43" height="6.56" fill="#8c94f2"/>
<rect x="249.73" y="479.48" width="10.43" height="6.56" fill="#aab0f4"/>
<rect x="259.17" y="479.48" width="9.43" height="6.56" fill="#8c94f2"/>
<rect x="212.00" y="485.04" width="10.43" height="5.56" fill="#3038ee"/>
<rect x="221.43" y="485.04" width="10.43" height="5.56" fill="#e60a0a"/>
<rect x="230.87" y="485.04" width="10.43" height="5.56" fill="#e60a0a"/>
<rect x="240.30" y="485.04" width="10.43" height="5.56" fill="#8c94f2"/>
<rect x="249.73" y="485.04" width="10.43" height="5.56" fill="#f6f0f0"/>
<rect x="259.17" y="485.04" width="9.43" height="5.56" fill="#1818ee"/>
<text x="270.20" y="301.58" font-size="4.6" stroke="#111" stroke-width="0.15" font-weight="bold" textLength="11.04" lengthAdjust="spacingAndGlyphs" fill="#111" >RBP1</text>
<text x="270.20" y="307.14" font-size="4.6" stroke="#111" stroke-width="0.15" font-weight="bold" textLength="13.57" lengthAdjust="spacingAndGlyphs" fill="#111" >LPHN1</text>
<text x="270.20" y="312.70" font-size="4.6" stroke="#111" stroke-width="0.15" font-weight="bold" textLength="13.80" lengthAdjust="spacingAndGlyphs" fill="#111" >PCGF2</text>
<text x="270.20" y="318.26" font-size="4.6" stroke="#111" stroke-width="0.15" font-weight="bold" textLength="10.43" lengthAdjust="spacingAndGlyphs" fill="#111" >EYA2</text>
<text x="270.20" y="323.82" font-size="4.6" stroke="#111" stroke-width="0.15" font-weight="bold" textLength="15.88" lengthAdjust="spacingAndGlyphs" fill="#111" >GPR133</text>
<text x="270.20" y="329.38" font-size="4.6" stroke="#111" stroke-width="0.15" font-weight="bold" textLength="14.04" lengthAdjust="spacingAndGlyphs" fill="#111" >PROX1</text>
<text x="270.20" y="334.94" font-size="4.6" stroke="#111" stroke-width="0.15" font-weight="bold" textLength="16.79" lengthAdjust="spacingAndGlyphs" fill="#111" >ANGPT1</text>
<text x="270.20" y="340.50" font-size="4.6" stroke="#111" stroke-width="0.15" font-weight="bold" textLength="12.19" lengthAdjust="spacingAndGlyphs" fill="#111" >RORA</text>
<text x="270.20" y="346.06" font-size="4.6" stroke="#111" stroke-width="0.15" font-weight="bold" textLength="13.57" lengthAdjust="spacingAndGlyphs" fill="#111" >CHST2</text>
<text x="270.20" y="351.62" font-size="4.6" stroke="#111" stroke-width="0.15" font-weight="bold" textLength="14.03" lengthAdjust="spacingAndGlyphs" fill="#111" >ADCY9</text>
<text x="270.20" y="357.18" font-size="4.6" stroke="#111" stroke-width="0.15" font-weight="bold" textLength="14.26" lengthAdjust="spacingAndGlyphs" fill="#111" >LAMC1</text>
<text x="270.20" y="362.74" font-size="4.6" stroke="#111" stroke-width="0.15" font-weight="bold" textLength="16.57" lengthAdjust="spacingAndGlyphs" fill="#111" >HOXA10</text>
<text x="270.20" y="368.30" font-size="4.6" stroke="#111" stroke-width="0.15" font-weight="bold" textLength="8.28" lengthAdjust="spacingAndGlyphs" fill="#111" >AK1</text>
<text x="270.20" y="373.86" font-size="4.6" stroke="#111" stroke-width="0.15" font-weight="bold" textLength="12.42" lengthAdjust="spacingAndGlyphs" fill="#111" >CHIC1</text>
<text x="270.20" y="379.42" font-size="4.6" stroke="#111" stroke-width="0.15" font-weight="bold" textLength="11.50" lengthAdjust="spacingAndGlyphs" fill="#111" >UTRN</text>
<text x="270.20" y="384.98" font-size="4.6" stroke="#111" stroke-width="0.15" font-weight="bold" textLength="14.26" lengthAdjust="spacingAndGlyphs" fill="#111" >HOXA5</text>
<text x="270.20" y="390.54" font-size="4.6" stroke="#111" stroke-width="0.15" font-weight="bold" textLength="13.80" lengthAdjust="spacingAndGlyphs" fill="#111" >EPHA5</text>
<text x="270.20" y="396.10" font-size="4.6" stroke="#111" stroke-width="0.15" font-weight="bold" textLength="19.79" lengthAdjust="spacingAndGlyphs" fill="#111" >AA536748</text>
<text x="270.20" y="401.66" font-size="4.6" stroke="#111" stroke-width="0.15" font-weight="bold" textLength="8.05" lengthAdjust="spacingAndGlyphs" fill="#111" >LPP</text>
<text x="270.20" y="407.22" font-size="4.6" stroke="#111" stroke-width="0.15" font-weight="bold" textLength="11.73" lengthAdjust="spacingAndGlyphs" fill="#111" >RRAS</text>
<text x="270.20" y="412.78" font-size="4.6" stroke="#111" stroke-width="0.15" font-weight="bold" textLength="14.95" lengthAdjust="spacingAndGlyphs" fill="#111" >PROCR</text>
<text x="270.20" y="418.34" font-size="4.6" stroke="#111" stroke-width="0.15" font-weight="bold" textLength="11.73" lengthAdjust="spacingAndGlyphs" fill="#111" >CSAD</text>
<text x="270.20" y="423.90" font-size="4.6" stroke="#111" stroke-width="0.15" font-weight="bold" textLength="13.34" lengthAdjust="spacingAndGlyphs" fill="#111" >TRAF1</text>
<text x="270.20" y="429.46" font-size="4.6" stroke="#111" stroke-width="0.15" font-weight="bold" textLength="22.32" lengthAdjust="spacingAndGlyphs" fill="#111" >D8WSU20E</text>
<text x="270.20" y="435.02" font-size="4.6" stroke="#111" stroke-width="0.15" font-weight="bold" textLength="11.04" lengthAdjust="spacingAndGlyphs" fill="#111" >CBX7</text>
<text x="270.20" y="440.58" font-size="4.6" stroke="#111" stroke-width="0.15" font-weight="bold" textLength="16.34" lengthAdjust="spacingAndGlyphs" fill="#111" >HSD3B3</text>
<text x="270.20" y="446.14" font-size="4.6" stroke="#111" stroke-width="0.15" font-weight="bold" textLength="15.18" lengthAdjust="spacingAndGlyphs" fill="#111" >MYOM1</text>
<text x="270.20" y="451.70" font-size="4.6" stroke="#111" stroke-width="0.15" font-weight="bold" textLength="12.19" lengthAdjust="spacingAndGlyphs" fill="#111" >RORC</text>
<text x="270.20" y="457.26" font-size="4.6" stroke="#111" stroke-width="0.15" font-weight="bold" textLength="11.27" lengthAdjust="spacingAndGlyphs" fill="#111" >DSG2</text>
<text x="270.20" y="462.82" font-size="4.6" stroke="#111" stroke-width="0.15" font-weight="bold" textLength="13.57" lengthAdjust="spacingAndGlyphs" fill="#111" >FKBP7</text>
<text x="270.20" y="468.38" font-size="4.6" stroke="#111" stroke-width="0.15" font-weight="bold" textLength="8.98" lengthAdjust="spacingAndGlyphs" fill="#111" >SIX5</text>
<text x="270.20" y="473.94" font-size="4.6" stroke="#111" stroke-width="0.15" font-weight="bold" textLength="14.26" lengthAdjust="spacingAndGlyphs" fill="#111" >LAMB2</text>
<text x="270.20" y="479.50" font-size="4.6" stroke="#111" stroke-width="0.15" font-weight="bold" textLength="10.81" lengthAdjust="spacingAndGlyphs" fill="#111" >JAG2</text>
<text x="270.20" y="485.06" font-size="4.6" stroke="#111" stroke-width="0.15" font-weight="bold" textLength="5.98" lengthAdjust="spacingAndGlyphs" fill="#111" >IL4</text>
<text x="270.20" y="490.62" font-size="4.6" stroke="#111" stroke-width="0.15" font-weight="bold" textLength="15.41" lengthAdjust="spacingAndGlyphs" fill="#111" >NFE2L3</text>
<text x="317.40" y="200.60" font-size="10.4" stroke="#111" stroke-width="0.3" font-weight="bold" fill="#111" >D</text>
<text x="340.60" y="205.80" font-size="5.0" text-anchor="middle" fill="#777" >2</text>
<text x="354.00" y="205.80" font-size="5.0" text-anchor="middle" fill="#777" >4</text>
<text x="367.10" y="205.80" font-size="5.0" text-anchor="middle" fill="#777" >6</text>
<text x="380.10" y="205.80" font-size="5.0" text-anchor="middle" fill="#777" >8</text>
<text x="393.80" y="205.80" font-size="5.0" text-anchor="middle" fill="#777" >10</text>
<line x1="334.1" x2="334.1" y1="208.6" y2="407" stroke="#f2f2f2" stroke-width="0.5"/>
<line x1="340.6" x2="340.6" y1="208.6" y2="407" stroke="#f2f2f2" stroke-width="0.5"/>
<line x1="347.1" x2="347.1" y1="208.6" y2="407" stroke="#f2f2f2" stroke-width="0.5"/>
<line x1="353.6" x2="353.6" y1="208.6" y2="407" stroke="#f2f2f2" stroke-width="0.5"/>
<line x1="360.1" x2="360.1" y1="208.6" y2="407" stroke="#f2f2f2" stroke-width="0.5"/>
<line x1="366.6" x2="366.6" y1="208.6" y2="407" stroke="#f2f2f2" stroke-width="0.5"/>
<line x1="373.1" x2="373.1" y1="208.6" y2="407" stroke="#f2f2f2" stroke-width="0.5"/>
<line x1="379.6" x2="379.6" y1="208.6" y2="407" stroke="#f2f2f2" stroke-width="0.5"/>
<line x1="386.1" x2="386.1" y1="208.6" y2="407" stroke="#f2f2f2" stroke-width="0.5"/>
<line x1="392.6" x2="392.6" y1="208.6" y2="407" stroke="#f2f2f2" stroke-width="0.5"/>
<line x1="399.1" x2="399.1" y1="208.6" y2="407" stroke="#f2f2f2" stroke-width="0.5"/>
<line x1="405.6" x2="405.6" y1="208.6" y2="407" stroke="#f2f2f2" stroke-width="0.5"/>
<line x1="327.6" x2="407.2" y1="208.5" y2="208.5" stroke="#d0d0d0" stroke-width="0.7"/>
<line x1="327.6" x2="327.6" y1="208.5" y2="407.2" stroke="#d4d4d4" stroke-width="0.8"/>
<line x1="406.7" x2="406.7" y1="208.5" y2="407.2" stroke="#d0d0d0" stroke-width="0.6"/>
<text x="409.20" y="207.80" font-size="4.8" stroke="#222" stroke-width="0.12" textLength="24.80" lengthAdjust="spacingAndGlyphs" fill="#222" >-log(pValue)</text>
<text x="323.30" y="218.80" font-size="5.0" text-anchor="middle" fill="#666" >1</text>
<rect x="327.9" y="215.75" width="11.50" height="1.1" fill="#f2cc9e"/>
<rect x="327.9" y="218.10" width="75.10" height="1.6" fill="#4f7fd6"/>
<text x="323.30" y="236.00" font-size="5.0" text-anchor="middle" fill="#666" >2</text>
<rect x="327.9" y="232.85" width="19.80" height="1.1" fill="#f2cc9e"/>
<rect x="327.9" y="235.10" width="51.90" height="1.6" fill="#4f7fd6"/>
<text x="323.30" y="253.10" font-size="5.0" text-anchor="middle" fill="#666" >3</text>
<rect x="327.9" y="249.75" width="4.30" height="1.1" fill="#f2cc9e"/>
<rect x="327.9" y="252.10" width="32.00" height="1.6" fill="#4f7fd6"/>
<text x="323.30" y="276.80" font-size="5.0" text-anchor="middle" fill="#666" >4</text>
<rect x="327.9" y="273.75" width="4.30" height="1.1" fill="#f2cc9e"/>
<rect x="327.9" y="276.10" width="31.60" height="1.6" fill="#4f7fd6"/>
<text x="323.30" y="304.50" font-size="5.0" text-anchor="middle" fill="#666" >5</text>
<rect x="327.9" y="301.35" width="5.70" height="1.1" fill="#f2cc9e"/>
<rect x="327.9" y="303.80" width="26.70" height="1.6" fill="#4f7fd6"/>
<text x="323.30" y="325.30" font-size="5.0" text-anchor="middle" fill="#666" >6</text>
<rect x="327.9" y="322.05" width="3.70" height="1.1" fill="#f2cc9e"/>
<rect x="327.9" y="324.30" width="26.10" height="1.6" fill="#4f7fd6"/>
<text x="323.30" y="345.10" font-size="5.0" text-anchor="middle" fill="#666" >7</text>
<rect x="327.9" y="342.05" width="23.90" height="1.1" fill="#f2cc9e"/>
<rect x="327.9" y="344.60" width="24.50" height="1.6" fill="#4f7fd6"/>
<text x="323.30" y="369.50" font-size="5.0" text-anchor="middle" fill="#666" >8</text>
<rect x="327.9" y="366.55" width="3.80" height="1.1" fill="#f2cc9e"/>
<rect x="327.9" y="369.10" width="22.90" height="1.6" fill="#4f7fd6"/>
<text x="323.30" y="386.10" font-size="5.0" text-anchor="middle" fill="#666" >9</text>
<rect x="327.9" y="383.25" width="16.00" height="1.1" fill="#f2cc9e"/>
<rect x="327.9" y="385.70" width="21.10" height="1.6" fill="#4f7fd6"/>
<text x="323.50" y="399.10" font-size="5.0" text-anchor="middle" fill="#666" >10</text>
<rect x="327.9" y="396.65" width="19.80" height="1.1" fill="#f2cc9e"/>
<rect x="327.9" y="399.00" width="9.90" height="1.6" fill="#8aa4dc"/>
<text x="414.60" y="216.65" font-size="4.6" textLength="83.70" lengthAdjust="spacingAndGlyphs" fill="#737b90" >1. Development_Transcription regulation</text>
<text x="418.30" y="223.95" font-size="4.6" textLength="59.30" lengthAdjust="spacingAndGlyphs" fill="#737b90" >of granulocyte development</text>
<text x="413.40" y="234.45" font-size="4.6" textLength="86.60" lengthAdjust="spacingAndGlyphs" fill="#737b90" >2. Development_G-CSF-induced myeloid</text>
<text x="418.30" y="241.25" font-size="4.6" textLength="28.00" lengthAdjust="spacingAndGlyphs" fill="#737b90" >differentiation</text>
<text x="413.40" y="250.35" font-size="4.6" textLength="77.30" lengthAdjust="spacingAndGlyphs" fill="#737b90" >3. Inhibitory action of Lipoxins on</text>
<text x="418.30" y="257.65" font-size="4.6" textLength="76.70" lengthAdjust="spacingAndGlyphs" fill="#737b90" >Superoxide production in neutrophils</text>
<text x="413.40" y="267.85" font-size="4.6" textLength="84.20" lengthAdjust="spacingAndGlyphs" fill="#737b90" >4. Immune response_Inhibitory action of</text>
<text x="418.30" y="275.15" font-size="4.6" textLength="70.70" lengthAdjust="spacingAndGlyphs" fill="#737b90" >lipoxins on superoxide production</text>
<text x="418.30" y="282.55" font-size="4.6" textLength="75.70" lengthAdjust="spacingAndGlyphs" fill="#737b90" >induced by IL-8 and Leukotriene B4</text>
<text x="418.30" y="289.35" font-size="4.6" textLength="26.70" lengthAdjust="spacingAndGlyphs" fill="#737b90" >in neutrophils</text>
<text x="413.40" y="298.65" font-size="4.6" textLength="87.10" lengthAdjust="spacingAndGlyphs" fill="#737b90" >5. Neurophysiological process_Dopamine</text>
<text x="418.30" y="305.95" font-size="4.6" textLength="80.50" lengthAdjust="spacingAndGlyphs" fill="#737b90" >D2 receptor transactivation of PDGFR</text>
<text x="418.30" y="312.75" font-size="4.6" textLength="14.70" lengthAdjust="spacingAndGlyphs" fill="#737b90" >in CNS</text>
<text x="412.70" y="323.25" font-size="4.6" textLength="86.10" lengthAdjust="spacingAndGlyphs" fill="#737b90" >6. Immune response _CCR3 signaling in</text>
<text x="418.30" y="330.35" font-size="4.6" textLength="23.70" lengthAdjust="spacingAndGlyphs" fill="#737b90" >eosinophils</text>
<text x="413.40" y="339.55" font-size="4.6" textLength="82.20" lengthAdjust="spacingAndGlyphs" fill="#737b90" >7. Protein folding_Membrane trafficking</text>
<text x="418.30" y="346.45" font-size="4.6" textLength="72.40" lengthAdjust="spacingAndGlyphs" fill="#737b90" >and signal transduction of G-alpha</text>
<text x="418.30" y="353.65" font-size="4.6" textLength="56.10" lengthAdjust="spacingAndGlyphs" fill="#737b90" >(i) heterotrimeric G-protein</text>
<text x="413.40" y="363.95" font-size="4.6" textLength="74.40" lengthAdjust="spacingAndGlyphs" fill="#737b90" >8. Regulation of lipid metabolism_</text>
<text x="418.30" y="370.75" font-size="4.6" textLength="65.80" lengthAdjust="spacingAndGlyphs" fill="#737b90" >Stimulation of Arachidonic acid</text>
<text x="418.30" y="378.15" font-size="4.6" textLength="62.20" lengthAdjust="spacingAndGlyphs" fill="#737b90" >production by ACM receptors</text>
<text x="413.40" y="387.15" font-size="4.6" textLength="74.40" lengthAdjust="spacingAndGlyphs" fill="#737b90" >9. Immune response_C5a signaling</text>
<text x="411.00" y="397.35" font-size="4.6" textLength="78.00" lengthAdjust="spacingAndGlyphs" fill="#737b90" >10. Muscle contraction_Regulation of</text>
<text x="418.30" y="404.65" font-size="4.6" textLength="68.30" lengthAdjust="spacingAndGlyphs" fill="#737b90" >eNOS activity in endothelial cells</text>
<rect x="347" y="427.6" width="13.5" height="3.2" fill="#e9c39c"/>
<rect x="347" y="437.5" width="13.5" height="3.2" fill="#6ea2dc"/>
<text x="367.00" y="431.40" font-size="5.8" stroke="#111" stroke-width="0.2" font-weight="bold" textLength="74.30" lengthAdjust="spacingAndGlyphs" fill="#111" >12wks HOXB4 vs 12 wks GFP</text>
<text x="367.00" y="441.20" font-size="5.8" stroke="#111" stroke-width="0.2" font-weight="bold" textLength="74.30" lengthAdjust="spacingAndGlyphs" fill="#111" >20wks HOXB4 vs 20 wks GFP</text>
<!--DCHART-->
</svg></body></html>
